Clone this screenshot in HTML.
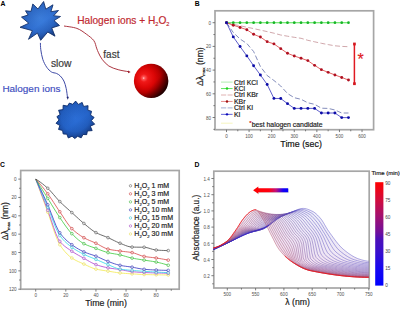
<!DOCTYPE html>
<html><head><meta charset="utf-8"><title>figure</title>
<style>
html,body{margin:0;padding:0;background:#fff;width:400px;height:309px;overflow:hidden;}
svg{display:block;}
text{font-family:"Liberation Sans",sans-serif;}
</style></head>
<body>
<svg width="400" height="309" viewBox="0 0 400 309">
<text x="0.4" y="6.4" font-size="6.8" fill="#000" text-anchor="start" font-weight="bold" >A</text>
<text x="194.8" y="6.2" font-size="6.8" fill="#000" text-anchor="start" font-weight="bold" >B</text>
<text x="0.1" y="166.5" font-size="6.8" fill="#000" text-anchor="start" font-weight="bold" >C</text>
<text x="194.4" y="167" font-size="6.8" fill="#000" text-anchor="start" font-weight="bold" >D</text>
<defs>
<radialGradient id="starA" cx="0.48" cy="0.42" r="0.62">
 <stop offset="0" stop-color="#3d80df"/>
 <stop offset="0.6" stop-color="#2f6ed0"/>
 <stop offset="0.85" stop-color="#2458b0"/>
 <stop offset="1" stop-color="#183f86"/>
</radialGradient>
<radialGradient id="starB" cx="0.5" cy="0.45" r="0.6">
 <stop offset="0" stop-color="#2c6fd8"/>
 <stop offset="0.6" stop-color="#2463c8"/>
 <stop offset="1" stop-color="#163f8e"/>
</radialGradient>
<radialGradient id="sph" cx="0.36" cy="0.40" r="0.72" fx="0.28" fy="0.42">
 <stop offset="0" stop-color="#ffd0d0"/>
 <stop offset="0.05" stop-color="#ff5a5a"/>
 <stop offset="0.16" stop-color="#f01818"/>
 <stop offset="0.4" stop-color="#dc0606"/>
 <stop offset="0.6" stop-color="#b80000"/>
 <stop offset="0.8" stop-color="#700000"/>
 <stop offset="0.95" stop-color="#300000"/>
 <stop offset="1" stop-color="#200000"/>
</radialGradient>
<linearGradient id="sphs" x1="0.2" y1="0.25" x2="0.95" y2="0.9">
 <stop offset="0" stop-color="#000" stop-opacity="0"/>
 <stop offset="0.5" stop-color="#000" stop-opacity="0"/>
 <stop offset="0.75" stop-color="#000" stop-opacity="0.3"/>
 <stop offset="1" stop-color="#000" stop-opacity="0.75"/>
</linearGradient>
<linearGradient id="starS" x1="0.25" y1="0.2" x2="0.85" y2="1">
 <stop offset="0" stop-color="#0a1f50" stop-opacity="0.15"/>
 <stop offset="0.45" stop-color="#0a1f50" stop-opacity="0"/>
 <stop offset="0.7" stop-color="#0a1f50" stop-opacity="0.15"/>
 <stop offset="1" stop-color="#0a1f50" stop-opacity="0.6"/>
</linearGradient>
<linearGradient id="fanG" x1="0.35" y1="0.9" x2="0.75" y2="0.2">
 <stop offset="0" stop-color="#e890b8" stop-opacity="0.35"/>
 <stop offset="0.5" stop-color="#c8a8dc" stop-opacity="0.28"/>
 <stop offset="1" stop-color="#a8a8e0" stop-opacity="0.2"/>
</linearGradient>
<linearGradient id="arrowD" x1="0" y1="0" x2="1" y2="0">
 <stop offset="0" stop-color="#ff0000"/>
 <stop offset="0.45" stop-color="#ff0010"/>
 <stop offset="0.65" stop-color="#c0107a"/>
 <stop offset="0.85" stop-color="#1a00f0"/>
 <stop offset="1" stop-color="#0000ff"/>
</linearGradient>
<linearGradient id="cbar" x1="0" y1="1" x2="0" y2="0">
 <stop offset="0" stop-color="#0000ff"/>
 <stop offset="0.17" stop-color="#1808f0"/>
 <stop offset="0.33" stop-color="#3a10cc"/>
 <stop offset="0.45" stop-color="#4c10b8"/>
 <stop offset="0.52" stop-color="#72109a"/>
 <stop offset="0.67" stop-color="#a21070"/>
 <stop offset="0.83" stop-color="#d20c3c"/>
 <stop offset="1" stop-color="#ff0000"/>
</linearGradient>
</defs>
<polygon points="43.6,1.5 45.79,9.15 53,4.8 50.89,11.73 58.5,10.5 53.65,15.72 60.5,16.5 54,20.62 59.5,25.5 51.74,27.91 55,36.2 47.78,32.02 40.7,40.3 37.46,33.06 28.5,39.3 32.39,30.65 20,27.3 28.78,23.24 21.5,17.1 28.1,15.03 25.5,10.8 31.03,11.32 32.8,4 37.96,8.96" fill="url(#starA)" stroke="#16346e" stroke-width="0.9" stroke-linejoin="miter"/>
<polygon points="43.6,1.5 45.79,9.15 53,4.8 50.89,11.73 58.5,10.5 53.65,15.72 60.5,16.5 54,20.62 59.5,25.5 51.74,27.91 55,36.2 47.78,32.02 40.7,40.3 37.46,33.06 28.5,39.3 32.39,30.65 20,27.3 28.78,23.24 21.5,17.1 28.1,15.03 25.5,10.8 31.03,11.32 32.8,4 37.96,8.96" fill="url(#starS)"/>
<polygon points="82.16,102.41 83.6,106.45 88.05,105.64 87.83,110.16 91.59,111.3 90.54,115.09 94.1,117.39 91.4,120.65 94.67,124.17 90.3,126.17 92.18,130.6 87.38,130.98 86.71,134.64 82.99,134.5 81.16,137.86 77.67,136.31 74.8,138.54 72.04,136.19 68.32,138 66.8,134.15 63.2,133.99 62.57,130.44 58.53,129.45 59.86,125.51 56.04,123.25 59,119.95 56.88,116.66 60.1,114.43 58.58,110.22 63.02,109.62 63.13,105.27 67.41,106.1 69.35,103.08 72.73,104.29 75.62,101.09 78.36,104.41" fill="url(#starB)" stroke="#10306e" stroke-width="0.9" stroke-linejoin="miter"/>
<polygon points="82.16,102.41 83.6,106.45 88.05,105.64 87.83,110.16 91.59,111.3 90.54,115.09 94.1,117.39 91.4,120.65 94.67,124.17 90.3,126.17 92.18,130.6 87.38,130.98 86.71,134.64 82.99,134.5 81.16,137.86 77.67,136.31 74.8,138.54 72.04,136.19 68.32,138 66.8,134.15 63.2,133.99 62.57,130.44 58.53,129.45 59.86,125.51 56.04,123.25 59,119.95 56.88,116.66 60.1,114.43 58.58,110.22 63.02,109.62 63.13,105.27 67.41,106.1 69.35,103.08 72.73,104.29 75.62,101.09 78.36,104.41" fill="url(#starS)" opacity="0.7"/>
<circle cx="151.1" cy="80.9" r="17.2" fill="url(#sph)"/>
<circle cx="151.1" cy="80.9" r="17.2" fill="url(#sphs)"/>
<path d="M64 26 C66.15 26.4 73.18 27.05 76.9 28.4 C80.62 29.75 83.48 32.07 86.3 34.1 C89.12 36.13 92.08 38.27 93.8 40.6 C95.52 42.93 95.82 46.07 96.6 48.1 C97.38 50.13 97.57 50.92 98.5 52.8 C99.43 54.68 100.48 57.2 102.2 59.4 C103.92 61.6 106.13 64.28 108.8 66 C111.47 67.72 114.9 68.75 118.2 69.7 C121.5 70.65 126.87 71.37 128.6 71.7" fill="none" stroke="#a82c38" stroke-width="0.95"/>
<polygon points="130.6,71.9 128.0,70.5 128.1,73.2" fill="#9a1c2c"/>
<path d="M40.4 42.9 C40.47 44.03 40.4 46.95 40.8 49.7 C41.2 52.45 41.82 56.48 42.8 59.4 C43.78 62.32 45.25 65.1 46.7 67.2 C48.15 69.3 49.88 70.97 51.5 72 C53.12 73.03 54.95 72.75 56.4 73.4 C57.85 74.05 58.95 74.63 60.2 75.9 C61.45 77.17 62.9 78.9 63.9 81 C64.9 83.1 65.6 85.75 66.2 88.5 C66.8 91.25 67.28 96 67.5 97.5" fill="none" stroke="#3440a0" stroke-width="0.95"/>
<polygon points="67.8,99.7 66.5,97.0 68.9,96.8" fill="#1c2470"/>
<text x="77.3" y="23.9" font-size="10.15" fill="#c0282f" text-anchor="start" font-weight="normal" stroke="#c0282f" stroke-width="0.18" >Halogen ions + H<tspan font-size="5.6" dy="2.2">2</tspan><tspan dy="-2.2">O</tspan><tspan font-size="5.6" dy="2.2">2</tspan></text>
<text x="103.3" y="57.8" font-size="10" fill="#3a3a3a" text-anchor="start" font-weight="normal" stroke="#3a3a3a" stroke-width="0.18" >fast</text>
<text x="50.9" y="67.1" font-size="10.3" fill="#3a3a3a" text-anchor="start" font-weight="normal" stroke="#3a3a3a" stroke-width="0.18" >slow</text>
<text x="2.4" y="91.6" font-size="9.95" fill="#3f4fbf" text-anchor="start" font-weight="normal" stroke="#3f4fbf" stroke-width="0.18" >Halogen ions</text>
<rect x="215" y="10.8" width="158.6" height="118.9" fill="none" stroke="#a6a6a6" stroke-width="1.7"/>
<line x1="226.5" y1="129.7" x2="226.5" y2="132.1" stroke="#666" stroke-width="0.85"/>
<text x="226.5" y="137.9" font-size="4.6" fill="#505050" text-anchor="middle" font-weight="normal" >0</text>
<line x1="237.79" y1="129.7" x2="237.79" y2="131.3" stroke="#666" stroke-width="0.85"/>
<line x1="249.09" y1="129.7" x2="249.09" y2="132.1" stroke="#666" stroke-width="0.85"/>
<text x="249.09" y="137.9" font-size="4.6" fill="#505050" text-anchor="middle" font-weight="normal" >100</text>
<line x1="260.38" y1="129.7" x2="260.38" y2="131.3" stroke="#666" stroke-width="0.85"/>
<line x1="271.68" y1="129.7" x2="271.68" y2="132.1" stroke="#666" stroke-width="0.85"/>
<text x="271.68" y="137.9" font-size="4.6" fill="#505050" text-anchor="middle" font-weight="normal" >200</text>
<line x1="282.98" y1="129.7" x2="282.98" y2="131.3" stroke="#666" stroke-width="0.85"/>
<line x1="294.27" y1="129.7" x2="294.27" y2="132.1" stroke="#666" stroke-width="0.85"/>
<text x="294.27" y="137.9" font-size="4.6" fill="#505050" text-anchor="middle" font-weight="normal" >300</text>
<line x1="305.56" y1="129.7" x2="305.56" y2="131.3" stroke="#666" stroke-width="0.85"/>
<line x1="316.86" y1="129.7" x2="316.86" y2="132.1" stroke="#666" stroke-width="0.85"/>
<text x="316.86" y="137.9" font-size="4.6" fill="#505050" text-anchor="middle" font-weight="normal" >400</text>
<line x1="328.15" y1="129.7" x2="328.15" y2="131.3" stroke="#666" stroke-width="0.85"/>
<line x1="339.45" y1="129.7" x2="339.45" y2="132.1" stroke="#666" stroke-width="0.85"/>
<text x="339.45" y="137.9" font-size="4.6" fill="#505050" text-anchor="middle" font-weight="normal" >500</text>
<line x1="350.75" y1="129.7" x2="350.75" y2="131.3" stroke="#666" stroke-width="0.85"/>
<line x1="362.04" y1="129.7" x2="362.04" y2="132.1" stroke="#666" stroke-width="0.85"/>
<text x="362.04" y="137.9" font-size="4.6" fill="#505050" text-anchor="middle" font-weight="normal" >600</text>
<line x1="212.6" y1="22.7" x2="215" y2="22.7" stroke="#666" stroke-width="0.85"/>
<text x="211" y="24.7" font-size="4.6" fill="#505050" text-anchor="end" font-weight="normal" >0</text>
<line x1="213.4" y1="34.55" x2="215" y2="34.55" stroke="#666" stroke-width="0.85"/>
<line x1="212.6" y1="46.4" x2="215" y2="46.4" stroke="#666" stroke-width="0.85"/>
<text x="211" y="48.4" font-size="4.6" fill="#505050" text-anchor="end" font-weight="normal" >20</text>
<line x1="213.4" y1="58.25" x2="215" y2="58.25" stroke="#666" stroke-width="0.85"/>
<line x1="212.6" y1="70.1" x2="215" y2="70.1" stroke="#666" stroke-width="0.85"/>
<text x="211" y="72.1" font-size="4.6" fill="#505050" text-anchor="end" font-weight="normal" >40</text>
<line x1="213.4" y1="81.95" x2="215" y2="81.95" stroke="#666" stroke-width="0.85"/>
<line x1="212.6" y1="93.8" x2="215" y2="93.8" stroke="#666" stroke-width="0.85"/>
<text x="211" y="95.8" font-size="4.6" fill="#505050" text-anchor="end" font-weight="normal" >60</text>
<line x1="213.4" y1="105.65" x2="215" y2="105.65" stroke="#666" stroke-width="0.85"/>
<line x1="212.6" y1="117.5" x2="215" y2="117.5" stroke="#666" stroke-width="0.85"/>
<text x="211" y="119.5" font-size="4.6" fill="#505050" text-anchor="end" font-weight="normal" >80</text>
<line x1="213.4" y1="129.35" x2="215" y2="129.35" stroke="#666" stroke-width="0.85"/>
<text x="301.1" y="147" font-size="8.9" fill="#111" text-anchor="middle" font-weight="normal" stroke="#111" stroke-width="0.18" >Time (sec)</text>
<text transform="translate(203.3,66.6) rotate(-90)" font-size="8.7" fill="#1a1a1a" stroke="#1a1a1a" stroke-width="0.18" text-anchor="middle">&#916;&#955;<tspan font-size="4.4" dy="1.5">max</tspan><tspan dy="-1.5"> (nm)</tspan></text>
<path d="M226.5 22.7 L233.28 24.3 L240.05 25.8 L246.83 27.2 L253.61 28.6 L260.38 30.1 L267.16 31.6 L273.94 33.2 L280.72 35 L287.49 36.2 L294.27 37.3 L301.05 38.3 L307.82 40.3 L314.6 41.8 L321.38 43.3 L328.15 44.6 L334.93 45.8 L341.71 46.4 L348.49 46.7" fill="none" stroke="#c49096" stroke-width="0.8" stroke-dasharray="5 2.4"/>
<path d="M226.5 22.7 L233.28 32.5 L240.05 39 L246.83 43.5 L253.61 51.5 L260.38 66.5 L267.16 75.5 L273.94 80.5 L280.72 86 L287.49 93.5 L294.27 97.7 L301.05 99.3 L307.82 102.8 L314.6 104.3 L321.38 108.2 L328.15 108.4 L334.93 110 L341.71 113 L348.49 113" fill="none" stroke="#6470aa" stroke-width="0.8" stroke-dasharray="5 2.4"/>
<path d="M226.5 22.7 L233.28 22.7 L240.05 22.7 L246.83 22.7 L253.61 22.7 L260.38 22.7 L267.16 22.7 L273.94 22.7 L280.72 22.7 L287.49 22.7 L294.27 22.7 L301.05 22.7 L307.82 22.7 L314.6 22.7 L321.38 22.7 L328.15 22.7 L334.93 22.7 L341.71 22.7 L348.49 22.7" fill="none" stroke="#4ee44e" stroke-width="1.1"/>
<circle cx="226.5" cy="22.7" r="1.35" fill="#16b426"/>
<circle cx="233.28" cy="22.7" r="1.35" fill="#16b426"/>
<circle cx="240.05" cy="22.7" r="1.35" fill="#16b426"/>
<circle cx="246.83" cy="22.7" r="1.35" fill="#16b426"/>
<circle cx="253.61" cy="22.7" r="1.35" fill="#16b426"/>
<circle cx="260.38" cy="22.7" r="1.35" fill="#16b426"/>
<circle cx="267.16" cy="22.7" r="1.35" fill="#16b426"/>
<circle cx="273.94" cy="22.7" r="1.35" fill="#16b426"/>
<circle cx="280.72" cy="22.7" r="1.35" fill="#16b426"/>
<circle cx="287.49" cy="22.7" r="1.35" fill="#16b426"/>
<circle cx="294.27" cy="22.7" r="1.35" fill="#16b426"/>
<circle cx="301.05" cy="22.7" r="1.35" fill="#16b426"/>
<circle cx="307.82" cy="22.7" r="1.35" fill="#16b426"/>
<circle cx="314.6" cy="22.7" r="1.35" fill="#16b426"/>
<circle cx="321.38" cy="22.7" r="1.35" fill="#16b426"/>
<circle cx="328.15" cy="22.7" r="1.35" fill="#16b426"/>
<circle cx="334.93" cy="22.7" r="1.35" fill="#16b426"/>
<circle cx="341.71" cy="22.7" r="1.35" fill="#16b426"/>
<circle cx="348.49" cy="22.7" r="1.35" fill="#16b426"/>
<path d="M226.5 22.7 L233.28 25.19 L240.05 27.44 L246.83 29.69 L253.61 34.31 L260.38 37.04 L267.16 41.66 L273.94 43.91 L280.72 48.65 L287.49 53.27 L294.27 56 L301.05 58.25 L307.82 60.62 L314.6 65.36 L321.38 69.63 L328.15 72.35 L334.93 74.96 L341.71 77.45 L348.49 80.05" fill="none" stroke="#d83030" stroke-width="0.75"/>
<circle cx="226.5" cy="22.7" r="1.45" fill="#b01020"/>
<circle cx="233.28" cy="25.19" r="1.45" fill="#b01020"/>
<circle cx="240.05" cy="27.44" r="1.45" fill="#b01020"/>
<circle cx="246.83" cy="29.69" r="1.45" fill="#b01020"/>
<circle cx="253.61" cy="34.31" r="1.45" fill="#b01020"/>
<circle cx="260.38" cy="37.04" r="1.45" fill="#b01020"/>
<circle cx="267.16" cy="41.66" r="1.45" fill="#b01020"/>
<circle cx="273.94" cy="43.91" r="1.45" fill="#b01020"/>
<circle cx="280.72" cy="48.65" r="1.45" fill="#b01020"/>
<circle cx="287.49" cy="53.27" r="1.45" fill="#b01020"/>
<circle cx="294.27" cy="56" r="1.45" fill="#b01020"/>
<circle cx="301.05" cy="58.25" r="1.45" fill="#b01020"/>
<circle cx="307.82" cy="60.62" r="1.45" fill="#b01020"/>
<circle cx="314.6" cy="65.36" r="1.45" fill="#b01020"/>
<circle cx="321.38" cy="69.63" r="1.45" fill="#b01020"/>
<circle cx="328.15" cy="72.35" r="1.45" fill="#b01020"/>
<circle cx="334.93" cy="74.96" r="1.45" fill="#b01020"/>
<circle cx="341.71" cy="77.45" r="1.45" fill="#b01020"/>
<circle cx="348.49" cy="80.05" r="1.45" fill="#b01020"/>
<path d="M226.5 22.7 L233.28 36.92 L240.05 46.52 L246.83 55.88 L253.61 65.72 L260.38 74.96 L267.16 84.44 L273.94 98.42 L280.72 98.54 L287.49 103.64 L294.27 108.38 L301.05 108.38 L307.82 108.38 L314.6 108.38 L321.38 113 L328.15 113 L334.93 113 L341.71 117.62 L348.49 117.62" fill="none" stroke="#2828b8" stroke-width="0.75"/>
<circle cx="226.5" cy="22.7" r="1.45" fill="#0c0ca8"/>
<circle cx="233.28" cy="36.92" r="1.45" fill="#0c0ca8"/>
<circle cx="240.05" cy="46.52" r="1.45" fill="#0c0ca8"/>
<circle cx="246.83" cy="55.88" r="1.45" fill="#0c0ca8"/>
<circle cx="253.61" cy="65.72" r="1.45" fill="#0c0ca8"/>
<circle cx="260.38" cy="74.96" r="1.45" fill="#0c0ca8"/>
<circle cx="267.16" cy="84.44" r="1.45" fill="#0c0ca8"/>
<circle cx="273.94" cy="98.42" r="1.45" fill="#0c0ca8"/>
<circle cx="280.72" cy="98.54" r="1.45" fill="#0c0ca8"/>
<circle cx="287.49" cy="103.64" r="1.45" fill="#0c0ca8"/>
<circle cx="294.27" cy="108.38" r="1.45" fill="#0c0ca8"/>
<circle cx="301.05" cy="108.38" r="1.45" fill="#0c0ca8"/>
<circle cx="307.82" cy="108.38" r="1.45" fill="#0c0ca8"/>
<circle cx="314.6" cy="108.38" r="1.45" fill="#0c0ca8"/>
<circle cx="321.38" cy="113" r="1.45" fill="#0c0ca8"/>
<circle cx="328.15" cy="113" r="1.45" fill="#0c0ca8"/>
<circle cx="334.93" cy="113" r="1.45" fill="#0c0ca8"/>
<circle cx="341.71" cy="117.62" r="1.45" fill="#0c0ca8"/>
<circle cx="348.49" cy="117.62" r="1.45" fill="#0c0ca8"/>
<line x1="354.4" y1="44.5" x2="354.4" y2="84.2" stroke="#e01a22" stroke-width="1.5"/>
<rect x="353.1" y="42.6" width="2.7" height="2.8" fill="#d41820"/>
<rect x="353.1" y="82.3" width="2.7" height="2.8" fill="#d41820"/>
<text x="357.6" y="65.4" font-size="16" fill="#e01a22" text-anchor="start" font-weight="normal" stroke="#e01a22" stroke-width="0.18" >*</text>
<line x1="221" y1="82.1" x2="232.6" y2="82.1" stroke="#9ae89a" stroke-width="0.8" stroke-dasharray="0"/>
<text x="234" y="84.5" font-size="6.9" fill="#1a1a1a" text-anchor="start" font-weight="normal" stroke="#1a1a1a" stroke-width="0.18" >Ctrl KCl</text>
<line x1="221" y1="88.55" x2="232.6" y2="88.55" stroke="#35e035" stroke-width="0.8" stroke-dasharray="0"/>
<circle cx="227" cy="88.55" r="1.2" fill="#1fcf1f"/>
<text x="234" y="90.95" font-size="6.9" fill="#1a1a1a" text-anchor="start" font-weight="normal" stroke="#1a1a1a" stroke-width="0.18" >KCl</text>
<line x1="221" y1="95" x2="232.6" y2="95" stroke="#d8a0a0" stroke-width="0.8" stroke-dasharray="5.2 1.4"/>
<text x="234" y="97.4" font-size="6.9" fill="#1a1a1a" text-anchor="start" font-weight="normal" stroke="#1a1a1a" stroke-width="0.18" >Ctrl KBr</text>
<line x1="221" y1="101.45" x2="232.6" y2="101.45" stroke="#e07070" stroke-width="0.8" stroke-dasharray="0"/>
<circle cx="227" cy="101.45" r="1.2" fill="#a01010"/>
<text x="234" y="103.85" font-size="6.9" fill="#1a1a1a" text-anchor="start" font-weight="normal" stroke="#1a1a1a" stroke-width="0.18" >KBr</text>
<line x1="221" y1="107.9" x2="232.6" y2="107.9" stroke="#8a9ac8" stroke-width="0.8" stroke-dasharray="5.2 1.4"/>
<text x="234" y="110.3" font-size="6.9" fill="#1a1a1a" text-anchor="start" font-weight="normal" stroke="#1a1a1a" stroke-width="0.18" >Ctrl KI</text>
<line x1="221" y1="114.35" x2="232.6" y2="114.35" stroke="#3a3ad0" stroke-width="0.8" stroke-dasharray="0"/>
<circle cx="227" cy="114.35" r="1.2" fill="#0a0ab8"/>
<text x="234" y="116.75" font-size="6.9" fill="#1a1a1a" text-anchor="start" font-weight="normal" stroke="#1a1a1a" stroke-width="0.18" >KI</text>
<line x1="221" y1="123.2" x2="232.6" y2="123.2" stroke="#f4f2b0" stroke-width="0.8"/>
<text x="249.3" y="127" font-size="6.87" fill="#222" text-anchor="start" font-weight="normal" stroke="#222" stroke-width="0.18" ><tspan fill="#d01818" stroke="#d01818" font-size="6" dy="-1.6">*</tspan><tspan dy="1.6">best halogen candidate</tspan></text>
<rect x="20.7" y="170.5" width="158.5" height="118.7" fill="none" stroke="#a6a6a6" stroke-width="1.7"/>
<line x1="35.7" y1="289.2" x2="35.7" y2="291.6" stroke="#666" stroke-width="0.85"/>
<text x="35.7" y="296.6" font-size="4.6" fill="#505050" text-anchor="middle" font-weight="normal" >0</text>
<line x1="50.76" y1="289.2" x2="50.76" y2="290.8" stroke="#666" stroke-width="0.85"/>
<line x1="65.82" y1="289.2" x2="65.82" y2="291.6" stroke="#666" stroke-width="0.85"/>
<text x="65.82" y="296.6" font-size="4.6" fill="#505050" text-anchor="middle" font-weight="normal" >20</text>
<line x1="80.88" y1="289.2" x2="80.88" y2="290.8" stroke="#666" stroke-width="0.85"/>
<line x1="95.94" y1="289.2" x2="95.94" y2="291.6" stroke="#666" stroke-width="0.85"/>
<text x="95.94" y="296.6" font-size="4.6" fill="#505050" text-anchor="middle" font-weight="normal" >40</text>
<line x1="111" y1="289.2" x2="111" y2="290.8" stroke="#666" stroke-width="0.85"/>
<line x1="126.06" y1="289.2" x2="126.06" y2="291.6" stroke="#666" stroke-width="0.85"/>
<text x="126.06" y="296.6" font-size="4.6" fill="#505050" text-anchor="middle" font-weight="normal" >60</text>
<line x1="141.12" y1="289.2" x2="141.12" y2="290.8" stroke="#666" stroke-width="0.85"/>
<line x1="156.18" y1="289.2" x2="156.18" y2="291.6" stroke="#666" stroke-width="0.85"/>
<text x="156.18" y="296.6" font-size="4.6" fill="#505050" text-anchor="middle" font-weight="normal" >80</text>
<line x1="171.24" y1="289.2" x2="171.24" y2="290.8" stroke="#666" stroke-width="0.85"/>
<line x1="18.3" y1="179.1" x2="20.7" y2="179.1" stroke="#666" stroke-width="0.85"/>
<text x="16.6" y="181.1" font-size="4.6" fill="#505050" text-anchor="end" font-weight="normal" >0</text>
<line x1="19.1" y1="188.28" x2="20.7" y2="188.28" stroke="#666" stroke-width="0.85"/>
<line x1="18.3" y1="197.45" x2="20.7" y2="197.45" stroke="#666" stroke-width="0.85"/>
<text x="16.6" y="199.45" font-size="4.6" fill="#505050" text-anchor="end" font-weight="normal" >20</text>
<line x1="19.1" y1="206.62" x2="20.7" y2="206.62" stroke="#666" stroke-width="0.85"/>
<line x1="18.3" y1="215.8" x2="20.7" y2="215.8" stroke="#666" stroke-width="0.85"/>
<text x="16.6" y="217.8" font-size="4.6" fill="#505050" text-anchor="end" font-weight="normal" >40</text>
<line x1="19.1" y1="224.97" x2="20.7" y2="224.97" stroke="#666" stroke-width="0.85"/>
<line x1="18.3" y1="234.15" x2="20.7" y2="234.15" stroke="#666" stroke-width="0.85"/>
<text x="16.6" y="236.15" font-size="4.6" fill="#505050" text-anchor="end" font-weight="normal" >60</text>
<line x1="19.1" y1="243.32" x2="20.7" y2="243.32" stroke="#666" stroke-width="0.85"/>
<line x1="18.3" y1="252.5" x2="20.7" y2="252.5" stroke="#666" stroke-width="0.85"/>
<text x="16.6" y="254.5" font-size="4.6" fill="#505050" text-anchor="end" font-weight="normal" >80</text>
<line x1="19.1" y1="261.68" x2="20.7" y2="261.68" stroke="#666" stroke-width="0.85"/>
<line x1="18.3" y1="270.85" x2="20.7" y2="270.85" stroke="#666" stroke-width="0.85"/>
<text x="16.6" y="272.85" font-size="4.6" fill="#505050" text-anchor="end" font-weight="normal" >100</text>
<line x1="19.1" y1="280.02" x2="20.7" y2="280.02" stroke="#666" stroke-width="0.85"/>
<line x1="18.3" y1="289.2" x2="20.7" y2="289.2" stroke="#666" stroke-width="0.85"/>
<text x="16.6" y="291.2" font-size="4.6" fill="#505050" text-anchor="end" font-weight="normal" >120</text>
<text x="106" y="306.2" font-size="8.8" fill="#1a1a1a" text-anchor="middle" font-weight="normal" stroke="#1a1a1a" stroke-width="0.18" >Time (min)</text>
<text transform="translate(8.4,221.1) rotate(-90)" font-size="8.5" fill="#1a1a1a" stroke="#1a1a1a" stroke-width="0.18" text-anchor="middle">&#916;&#955;<tspan font-size="4.4" dy="1.5">max</tspan><tspan dy="-1.5"> (nm)</tspan></text>
<path d="M35.7 179.1 L37.95 185.29 L40.19 191.47 L42.44 197.63 L44.68 203.78 L46.93 209.91 L49.18 216.19 L51.42 222.99 L53.67 229.85 L55.92 236.25 L58.16 241.67 L60.41 245.65 L62.65 248.84 L64.9 251.64 L67.15 254.06 L69.39 256.13 L71.64 257.86 L73.89 259.31 L76.13 260.54 L78.38 261.62 L80.62 262.62 L82.87 263.6 L85.12 264.63 L87.36 265.71 L89.61 266.77 L91.86 267.75 L94.1 268.58 L96.35 269.2 L98.59 269.67 L100.84 270.06 L103.09 270.4 L105.33 270.73 L107.58 271.06 L109.83 271.43 L112.07 271.81 L114.32 272.18 L116.56 272.53 L118.81 272.82 L121.06 273.06 L123.3 273.26 L125.55 273.44 L127.8 273.6 L130.04 273.75 L132.29 273.89 L134.53 274.03 L136.78 274.17 L139.03 274.3 L141.27 274.41 L143.52 274.5 L145.77 274.57 L148.01 274.63 L150.26 274.68 L152.5 274.73 L154.75 274.77 L157 274.81 L159.24 274.85 L161.49 274.89 L163.74 274.92 L165.98 274.95 L168.23 274.98" fill="none" stroke="#f2ea50" stroke-width="0.8"/>
<path d="M35.7 179.1 L37.95 184.93 L40.19 190.75 L42.44 196.57 L44.68 202.38 L46.93 208.19 L49.18 214.18 L51.42 220.8 L53.67 227.51 L55.92 233.69 L58.16 238.72 L60.41 242.05 L62.65 244.43 L64.9 246.4 L67.15 248.07 L69.39 249.58 L71.64 251.08 L73.89 252.56 L76.13 253.94 L78.38 255.23 L80.62 256.48 L82.87 257.72 L85.12 258.97 L87.36 260.28 L89.61 261.58 L91.86 262.8 L94.1 263.88 L96.35 264.75 L98.59 265.5 L100.84 266.16 L103.09 266.76 L105.33 267.28 L107.58 267.74 L109.83 268.14 L112.07 268.48 L114.32 268.78 L116.56 269.07 L118.81 269.38 L121.06 269.74 L123.3 270.16 L125.55 270.61 L127.8 271.04 L130.04 271.42 L132.29 271.7 L134.53 271.9 L136.78 272.07 L139.03 272.22 L141.27 272.35 L143.52 272.47 L145.77 272.58 L148.01 272.68 L150.26 272.77 L152.5 272.85 L154.75 272.92 L157 272.98 L159.24 273.04 L161.49 273.1 L163.74 273.15 L165.98 273.2 L168.23 273.24" fill="none" stroke="#b040d0" stroke-width="0.8"/>
<path d="M35.7 179.1 L37.95 184.28 L40.19 189.48 L42.44 194.7 L44.68 199.93 L46.93 205.17 L49.18 210.58 L51.42 216.49 L53.67 222.49 L55.92 228.1 L58.16 232.86 L60.41 236.35 L62.65 239.11 L64.9 241.49 L67.15 243.57 L69.39 245.42 L71.64 247.12 L73.89 248.7 L76.13 250.14 L78.38 251.46 L80.62 252.68 L82.87 253.83 L85.12 254.92 L87.36 255.91 L89.61 256.83 L91.86 257.72 L94.1 258.62 L96.35 259.56 L98.59 260.54 L100.84 261.53 L103.09 262.53 L105.33 263.51 L107.58 264.45 L109.83 265.38 L112.07 266.37 L114.32 267.34 L116.56 268.2 L118.81 268.86 L121.06 269.27 L123.3 269.57 L125.55 269.81 L127.8 270.02 L130.04 270.22 L132.29 270.41 L134.53 270.6 L136.78 270.78 L139.03 270.95 L141.27 271.11 L143.52 271.27 L145.77 271.42 L148.01 271.56 L150.26 271.7 L152.5 271.83 L154.75 271.96 L157 272.09 L159.24 272.21 L161.49 272.34 L163.74 272.46 L165.98 272.57 L168.23 272.69" fill="none" stroke="#30d8e8" stroke-width="0.8"/>
<path d="M35.7 179.1 L37.95 183.72 L40.19 188.42 L42.44 193.19 L44.68 198.05 L46.93 202.98 L49.18 208.14 L51.42 213.88 L53.67 219.78 L55.92 225.34 L58.16 230.1 L60.41 233.61 L62.65 236.39 L64.9 238.81 L67.15 240.93 L69.39 242.82 L71.64 244.55 L73.89 246.17 L76.13 247.66 L78.38 249.02 L80.62 250.27 L82.87 251.39 L85.12 252.38 L87.36 253.23 L89.61 254 L91.86 254.73 L94.1 255.49 L96.35 256.33 L98.59 257.28 L100.84 258.3 L103.09 259.33 L105.33 260.33 L107.58 261.25 L109.83 262.09 L112.07 262.93 L114.32 263.73 L116.56 264.45 L118.81 265.07 L121.06 265.55 L123.3 265.93 L125.55 266.26 L127.8 266.56 L130.04 266.87 L132.29 267.21 L134.53 267.62 L136.78 268.08 L139.03 268.52 L141.27 268.92 L143.52 269.23 L145.77 269.43 L148.01 269.6 L150.26 269.74 L152.5 269.86 L154.75 269.96 L157 270.06 L159.24 270.14 L161.49 270.22 L163.74 270.29 L165.98 270.35 L168.23 270.39" fill="none" stroke="#3434c0" stroke-width="0.8"/>
<path d="M35.7 179.1 L37.95 182.7 L40.19 186.3 L42.44 189.89 L44.68 193.48 L46.93 197.06 L49.18 200.67 L51.42 204.33 L53.67 208 L55.92 211.61 L58.16 215.11 L60.41 218.44 L62.65 221.73 L64.9 224.97 L67.15 228.08 L69.39 230.94 L71.64 233.48 L73.89 235.75 L76.13 237.89 L78.38 239.87 L80.62 241.63 L82.87 243.12 L85.12 244.31 L87.36 245.3 L89.61 246.16 L91.86 246.95 L94.1 247.72 L96.35 248.52 L98.59 249.38 L100.84 250.24 L103.09 251.07 L105.33 251.84 L107.58 252.49 L109.83 253.01 L112.07 253.44 L114.32 253.83 L116.56 254.21 L118.81 254.63 L121.06 255.12 L123.3 255.72 L125.55 256.37 L127.8 257.02 L130.04 257.63 L132.29 258.14 L134.53 258.57 L136.78 258.95 L139.03 259.31 L141.27 259.66 L143.52 260.02 L145.77 260.37 L148.01 260.71 L150.26 261.04 L152.5 261.39 L154.75 261.77 L157 262.21 L159.24 262.71 L161.49 263.28 L163.74 263.89 L165.98 264.55 L168.23 265.25" fill="none" stroke="#3ccc3c" stroke-width="0.8"/>
<path d="M35.7 179.1 L37.95 181.59 L40.19 184.2 L42.44 186.93 L44.68 189.76 L46.93 192.69 L49.18 195.75 L51.42 199.04 L53.67 202.46 L55.92 205.93 L58.16 209.35 L60.41 212.66 L62.65 216.06 L64.9 219.52 L67.15 222.85 L69.39 225.88 L71.64 228.44 L73.89 230.56 L76.13 232.46 L78.38 234.18 L80.62 235.73 L82.87 237.13 L85.12 238.4 L87.36 239.5 L89.61 240.5 L91.86 241.44 L94.1 242.4 L96.35 243.43 L98.59 244.61 L100.84 245.89 L103.09 247.12 L105.33 248.2 L107.58 249 L109.83 249.51 L112.07 249.92 L114.32 250.26 L116.56 250.56 L118.81 250.86 L121.06 251.17 L123.3 251.44 L125.55 251.69 L127.8 251.95 L130.04 252.25 L132.29 252.63 L134.53 253.22 L136.78 254.01 L139.03 254.87 L141.27 255.69 L143.52 256.32 L145.77 256.72 L148.01 257.03 L150.26 257.29 L152.5 257.54 L154.75 257.81 L157 258.13 L159.24 258.48 L161.49 258.86 L163.74 259.26 L165.98 259.68 L168.23 260.12" fill="none" stroke="#d84848" stroke-width="0.8"/>
<path d="M35.7 179.1 L37.95 180.51 L40.19 182.07 L42.44 183.78 L44.68 185.6 L46.93 187.54 L49.18 189.64 L51.42 192.05 L53.67 194.66 L55.92 197.31 L58.16 199.86 L60.41 202.19 L62.65 204.34 L64.9 206.4 L67.15 208.41 L69.39 210.4 L71.64 212.4 L73.89 214.46 L76.13 216.53 L78.38 218.59 L80.62 220.61 L82.87 222.56 L85.12 224.44 L87.36 226.33 L89.61 228.18 L91.86 229.93 L94.1 231.5 L96.35 232.81 L98.59 233.89 L100.84 234.83 L103.09 235.69 L105.33 236.55 L107.58 237.46 L109.83 238.48 L112.07 239.57 L114.32 240.68 L116.56 241.75 L118.81 242.75 L121.06 243.63 L123.3 244.57 L125.55 245.49 L127.8 246.29 L130.04 246.86 L132.29 247.09 L134.53 247.14 L136.78 247.17 L139.03 247.19 L141.27 247.21 L143.52 247.25 L145.77 247.43 L148.01 247.93 L150.26 248.61 L152.5 249.3 L154.75 249.84 L157 250.08 L159.24 250.24 L161.49 250.38 L163.74 250.48 L165.98 250.55 L168.23 250.57" fill="none" stroke="#484848" stroke-width="0.8"/>
<circle cx="47.75" cy="212.13" r="1.35" fill="#fff" fill-opacity="0.6" stroke="#e8dc50" stroke-width="0.6"/>
<circle cx="59.8" cy="244.7" r="1.35" fill="#fff" fill-opacity="0.6" stroke="#e8dc50" stroke-width="0.6"/>
<circle cx="71.84" cy="258" r="1.35" fill="#fff" fill-opacity="0.6" stroke="#e8dc50" stroke-width="0.6"/>
<circle cx="83.89" cy="264.06" r="1.35" fill="#fff" fill-opacity="0.6" stroke="#e8dc50" stroke-width="0.6"/>
<circle cx="95.94" cy="269.11" r="1.35" fill="#fff" fill-opacity="0.6" stroke="#e8dc50" stroke-width="0.6"/>
<circle cx="107.99" cy="271.13" r="1.35" fill="#fff" fill-opacity="0.6" stroke="#e8dc50" stroke-width="0.6"/>
<circle cx="120.04" cy="272.96" r="1.35" fill="#fff" fill-opacity="0.6" stroke="#e8dc50" stroke-width="0.6"/>
<circle cx="132.08" cy="273.88" r="1.35" fill="#fff" fill-opacity="0.6" stroke="#e8dc50" stroke-width="0.6"/>
<circle cx="144.13" cy="274.52" r="1.35" fill="#fff" fill-opacity="0.6" stroke="#e8dc50" stroke-width="0.6"/>
<circle cx="156.18" cy="274.8" r="1.35" fill="#fff" fill-opacity="0.6" stroke="#e8dc50" stroke-width="0.6"/>
<circle cx="168.23" cy="274.98" r="1.35" fill="#fff" fill-opacity="0.6" stroke="#e8dc50" stroke-width="0.6"/>
<circle cx="47.75" cy="210.29" r="1.35" fill="#fff" fill-opacity="0.6" stroke="#a040c0" stroke-width="0.6"/>
<circle cx="59.8" cy="241.31" r="1.35" fill="#fff" fill-opacity="0.6" stroke="#a040c0" stroke-width="0.6"/>
<circle cx="71.84" cy="251.22" r="1.35" fill="#fff" fill-opacity="0.6" stroke="#a040c0" stroke-width="0.6"/>
<circle cx="83.89" cy="258.28" r="1.35" fill="#fff" fill-opacity="0.6" stroke="#a040c0" stroke-width="0.6"/>
<circle cx="95.94" cy="264.61" r="1.35" fill="#fff" fill-opacity="0.6" stroke="#a040c0" stroke-width="0.6"/>
<circle cx="107.99" cy="267.82" r="1.35" fill="#fff" fill-opacity="0.6" stroke="#a040c0" stroke-width="0.6"/>
<circle cx="120.04" cy="269.57" r="1.35" fill="#fff" fill-opacity="0.6" stroke="#a040c0" stroke-width="0.6"/>
<circle cx="132.08" cy="271.68" r="1.35" fill="#fff" fill-opacity="0.6" stroke="#a040c0" stroke-width="0.6"/>
<circle cx="144.13" cy="272.5" r="1.35" fill="#fff" fill-opacity="0.6" stroke="#a040c0" stroke-width="0.6"/>
<circle cx="156.18" cy="272.96" r="1.35" fill="#fff" fill-opacity="0.6" stroke="#a040c0" stroke-width="0.6"/>
<circle cx="168.23" cy="273.24" r="1.35" fill="#fff" fill-opacity="0.6" stroke="#a040c0" stroke-width="0.6"/>
<circle cx="47.75" cy="207.08" r="1.35" fill="#fff" fill-opacity="0.6" stroke="#30c0d0" stroke-width="0.6"/>
<circle cx="59.8" cy="235.53" r="1.35" fill="#fff" fill-opacity="0.6" stroke="#30c0d0" stroke-width="0.6"/>
<circle cx="71.84" cy="247.27" r="1.35" fill="#fff" fill-opacity="0.6" stroke="#30c0d0" stroke-width="0.6"/>
<circle cx="83.89" cy="254.33" r="1.35" fill="#fff" fill-opacity="0.6" stroke="#30c0d0" stroke-width="0.6"/>
<circle cx="95.94" cy="259.38" r="1.35" fill="#fff" fill-opacity="0.6" stroke="#30c0d0" stroke-width="0.6"/>
<circle cx="107.99" cy="264.61" r="1.35" fill="#fff" fill-opacity="0.6" stroke="#30c0d0" stroke-width="0.6"/>
<circle cx="120.04" cy="269.11" r="1.35" fill="#fff" fill-opacity="0.6" stroke="#30c0d0" stroke-width="0.6"/>
<circle cx="132.08" cy="270.39" r="1.35" fill="#fff" fill-opacity="0.6" stroke="#30c0d0" stroke-width="0.6"/>
<circle cx="144.13" cy="271.31" r="1.35" fill="#fff" fill-opacity="0.6" stroke="#30c0d0" stroke-width="0.6"/>
<circle cx="156.18" cy="272.04" r="1.35" fill="#fff" fill-opacity="0.6" stroke="#30c0d0" stroke-width="0.6"/>
<circle cx="168.23" cy="272.69" r="1.35" fill="#fff" fill-opacity="0.6" stroke="#30c0d0" stroke-width="0.6"/>
<circle cx="47.75" cy="204.79" r="1.35" fill="#fff" fill-opacity="0.6" stroke="#3030b0" stroke-width="0.6"/>
<circle cx="59.8" cy="232.77" r="1.35" fill="#fff" fill-opacity="0.6" stroke="#3030b0" stroke-width="0.6"/>
<circle cx="71.84" cy="244.7" r="1.35" fill="#fff" fill-opacity="0.6" stroke="#3030b0" stroke-width="0.6"/>
<circle cx="83.89" cy="251.86" r="1.35" fill="#fff" fill-opacity="0.6" stroke="#3030b0" stroke-width="0.6"/>
<circle cx="95.94" cy="256.17" r="1.35" fill="#fff" fill-opacity="0.6" stroke="#3030b0" stroke-width="0.6"/>
<circle cx="107.99" cy="261.4" r="1.35" fill="#fff" fill-opacity="0.6" stroke="#3030b0" stroke-width="0.6"/>
<circle cx="120.04" cy="265.35" r="1.35" fill="#fff" fill-opacity="0.6" stroke="#3030b0" stroke-width="0.6"/>
<circle cx="132.08" cy="267.18" r="1.35" fill="#fff" fill-opacity="0.6" stroke="#3030b0" stroke-width="0.6"/>
<circle cx="144.13" cy="269.29" r="1.35" fill="#fff" fill-opacity="0.6" stroke="#3030b0" stroke-width="0.6"/>
<circle cx="156.18" cy="270.02" r="1.35" fill="#fff" fill-opacity="0.6" stroke="#3030b0" stroke-width="0.6"/>
<circle cx="168.23" cy="270.39" r="1.35" fill="#fff" fill-opacity="0.6" stroke="#3030b0" stroke-width="0.6"/>
<circle cx="47.75" cy="198.37" r="1.35" fill="#fff" fill-opacity="0.6" stroke="#30b030" stroke-width="0.6"/>
<circle cx="59.8" cy="217.54" r="1.35" fill="#fff" fill-opacity="0.6" stroke="#30b030" stroke-width="0.6"/>
<circle cx="71.84" cy="233.69" r="1.35" fill="#fff" fill-opacity="0.6" stroke="#30b030" stroke-width="0.6"/>
<circle cx="83.89" cy="243.69" r="1.35" fill="#fff" fill-opacity="0.6" stroke="#30b030" stroke-width="0.6"/>
<circle cx="95.94" cy="248.37" r="1.35" fill="#fff" fill-opacity="0.6" stroke="#30b030" stroke-width="0.6"/>
<circle cx="107.99" cy="252.59" r="1.35" fill="#fff" fill-opacity="0.6" stroke="#30b030" stroke-width="0.6"/>
<circle cx="120.04" cy="254.89" r="1.35" fill="#fff" fill-opacity="0.6" stroke="#30b030" stroke-width="0.6"/>
<circle cx="132.08" cy="258.1" r="1.35" fill="#fff" fill-opacity="0.6" stroke="#30b030" stroke-width="0.6"/>
<circle cx="144.13" cy="260.12" r="1.35" fill="#fff" fill-opacity="0.6" stroke="#30b030" stroke-width="0.6"/>
<circle cx="156.18" cy="262.04" r="1.35" fill="#fff" fill-opacity="0.6" stroke="#30b030" stroke-width="0.6"/>
<circle cx="168.23" cy="265.25" r="1.35" fill="#fff" fill-opacity="0.6" stroke="#30b030" stroke-width="0.6"/>
<circle cx="47.75" cy="193.78" r="1.35" fill="#fff" fill-opacity="0.6" stroke="#c83030" stroke-width="0.6"/>
<circle cx="59.8" cy="211.76" r="1.35" fill="#fff" fill-opacity="0.6" stroke="#c83030" stroke-width="0.6"/>
<circle cx="71.84" cy="228.64" r="1.35" fill="#fff" fill-opacity="0.6" stroke="#c83030" stroke-width="0.6"/>
<circle cx="83.89" cy="237.73" r="1.35" fill="#fff" fill-opacity="0.6" stroke="#c83030" stroke-width="0.6"/>
<circle cx="95.94" cy="243.23" r="1.35" fill="#fff" fill-opacity="0.6" stroke="#c83030" stroke-width="0.6"/>
<circle cx="107.99" cy="249.11" r="1.35" fill="#fff" fill-opacity="0.6" stroke="#c83030" stroke-width="0.6"/>
<circle cx="120.04" cy="251.03" r="1.35" fill="#fff" fill-opacity="0.6" stroke="#c83030" stroke-width="0.6"/>
<circle cx="132.08" cy="252.59" r="1.35" fill="#fff" fill-opacity="0.6" stroke="#c83030" stroke-width="0.6"/>
<circle cx="144.13" cy="256.45" r="1.35" fill="#fff" fill-opacity="0.6" stroke="#c83030" stroke-width="0.6"/>
<circle cx="156.18" cy="258" r="1.35" fill="#fff" fill-opacity="0.6" stroke="#c83030" stroke-width="0.6"/>
<circle cx="168.23" cy="260.12" r="1.35" fill="#fff" fill-opacity="0.6" stroke="#c83030" stroke-width="0.6"/>
<circle cx="47.75" cy="188.28" r="1.35" fill="#fff" fill-opacity="0.6" stroke="#555" stroke-width="0.6"/>
<circle cx="59.8" cy="201.58" r="1.35" fill="#fff" fill-opacity="0.6" stroke="#555" stroke-width="0.6"/>
<circle cx="71.84" cy="212.59" r="1.35" fill="#fff" fill-opacity="0.6" stroke="#555" stroke-width="0.6"/>
<circle cx="83.89" cy="223.42" r="1.35" fill="#fff" fill-opacity="0.6" stroke="#555" stroke-width="0.6"/>
<circle cx="95.94" cy="232.59" r="1.35" fill="#fff" fill-opacity="0.6" stroke="#555" stroke-width="0.6"/>
<circle cx="107.99" cy="237.64" r="1.35" fill="#fff" fill-opacity="0.6" stroke="#555" stroke-width="0.6"/>
<circle cx="120.04" cy="243.23" r="1.35" fill="#fff" fill-opacity="0.6" stroke="#555" stroke-width="0.6"/>
<circle cx="132.08" cy="247.09" r="1.35" fill="#fff" fill-opacity="0.6" stroke="#555" stroke-width="0.6"/>
<circle cx="144.13" cy="247.27" r="1.35" fill="#fff" fill-opacity="0.6" stroke="#555" stroke-width="0.6"/>
<circle cx="156.18" cy="250.02" r="1.35" fill="#fff" fill-opacity="0.6" stroke="#555" stroke-width="0.6"/>
<circle cx="168.23" cy="250.57" r="1.35" fill="#fff" fill-opacity="0.6" stroke="#555" stroke-width="0.6"/>
<circle cx="130.5" cy="185.8" r="1.2" fill="none" stroke="#555" stroke-width="0.55"/>
<text x="134.3" y="188.2" font-size="7.05" fill="#222" text-anchor="start" font-weight="normal" stroke="#222" stroke-width="0.18" >H<tspan font-size="4.2" dy="1.3">2</tspan><tspan dy="-1.3">O</tspan><tspan font-size="4.2" dy="1.3">2</tspan><tspan dy="-1.3"> 1 mM</tspan></text>
<circle cx="130.5" cy="193.83" r="1.2" fill="none" stroke="#c83030" stroke-width="0.55"/>
<text x="134.3" y="196.23" font-size="7.05" fill="#222" text-anchor="start" font-weight="normal" stroke="#222" stroke-width="0.18" >H<tspan font-size="4.2" dy="1.3">2</tspan><tspan dy="-1.3">O</tspan><tspan font-size="4.2" dy="1.3">2</tspan><tspan dy="-1.3"> 3 mM</tspan></text>
<circle cx="130.5" cy="201.86" r="1.2" fill="none" stroke="#30b030" stroke-width="0.55"/>
<text x="134.3" y="204.26" font-size="7.05" fill="#222" text-anchor="start" font-weight="normal" stroke="#222" stroke-width="0.18" >H<tspan font-size="4.2" dy="1.3">2</tspan><tspan dy="-1.3">O</tspan><tspan font-size="4.2" dy="1.3">2</tspan><tspan dy="-1.3"> 5 mM</tspan></text>
<circle cx="130.5" cy="209.89" r="1.2" fill="none" stroke="#3030b0" stroke-width="0.55"/>
<text x="134.3" y="212.29" font-size="7.05" fill="#222" text-anchor="start" font-weight="normal" stroke="#222" stroke-width="0.18" >H<tspan font-size="4.2" dy="1.3">2</tspan><tspan dy="-1.3">O</tspan><tspan font-size="4.2" dy="1.3">2</tspan><tspan dy="-1.3"> 10 mM</tspan></text>
<circle cx="130.5" cy="217.92" r="1.2" fill="none" stroke="#30c0d0" stroke-width="0.55"/>
<text x="134.3" y="220.32" font-size="7.05" fill="#222" text-anchor="start" font-weight="normal" stroke="#222" stroke-width="0.18" >H<tspan font-size="4.2" dy="1.3">2</tspan><tspan dy="-1.3">O</tspan><tspan font-size="4.2" dy="1.3">2</tspan><tspan dy="-1.3"> 15 mM</tspan></text>
<circle cx="130.5" cy="225.95" r="1.2" fill="none" stroke="#a040c0" stroke-width="0.55"/>
<text x="134.3" y="228.35" font-size="7.05" fill="#222" text-anchor="start" font-weight="normal" stroke="#222" stroke-width="0.18" >H<tspan font-size="4.2" dy="1.3">2</tspan><tspan dy="-1.3">O</tspan><tspan font-size="4.2" dy="1.3">2</tspan><tspan dy="-1.3"> 20 mM</tspan></text>
<circle cx="130.5" cy="233.98" r="1.2" fill="none" stroke="#e8dc50" stroke-width="0.55"/>
<text x="134.3" y="236.38" font-size="7.05" fill="#222" text-anchor="start" font-weight="normal" stroke="#222" stroke-width="0.18" >H<tspan font-size="4.2" dy="1.3">2</tspan><tspan dy="-1.3">O</tspan><tspan font-size="4.2" dy="1.3">2</tspan><tspan dy="-1.3"> 30 mM</tspan></text>
<rect x="213.8" y="171.2" width="155.4" height="116.8" fill="none" stroke="#a6a6a6" stroke-width="1.7"/>
<line x1="227.3" y1="288" x2="227.3" y2="290.4" stroke="#666" stroke-width="0.85"/>
<text x="227.3" y="295.9" font-size="4.6" fill="#505050" text-anchor="middle" font-weight="normal" >500</text>
<line x1="241.45" y1="288" x2="241.45" y2="289.6" stroke="#666" stroke-width="0.85"/>
<line x1="255.6" y1="288" x2="255.6" y2="290.4" stroke="#666" stroke-width="0.85"/>
<text x="255.6" y="295.9" font-size="4.6" fill="#505050" text-anchor="middle" font-weight="normal" >550</text>
<line x1="269.75" y1="288" x2="269.75" y2="289.6" stroke="#666" stroke-width="0.85"/>
<line x1="283.9" y1="288" x2="283.9" y2="290.4" stroke="#666" stroke-width="0.85"/>
<text x="283.9" y="295.9" font-size="4.6" fill="#505050" text-anchor="middle" font-weight="normal" >600</text>
<line x1="298.05" y1="288" x2="298.05" y2="289.6" stroke="#666" stroke-width="0.85"/>
<line x1="312.2" y1="288" x2="312.2" y2="290.4" stroke="#666" stroke-width="0.85"/>
<text x="312.2" y="295.9" font-size="4.6" fill="#505050" text-anchor="middle" font-weight="normal" >650</text>
<line x1="326.35" y1="288" x2="326.35" y2="289.6" stroke="#666" stroke-width="0.85"/>
<line x1="340.5" y1="288" x2="340.5" y2="290.4" stroke="#666" stroke-width="0.85"/>
<text x="340.5" y="295.9" font-size="4.6" fill="#505050" text-anchor="middle" font-weight="normal" >700</text>
<line x1="354.65" y1="288" x2="354.65" y2="289.6" stroke="#666" stroke-width="0.85"/>
<line x1="368.8" y1="288" x2="368.8" y2="290.4" stroke="#666" stroke-width="0.85"/>
<text x="368.8" y="295.9" font-size="4.6" fill="#505050" text-anchor="middle" font-weight="normal" >750</text>
<line x1="212.2" y1="283.8" x2="213.8" y2="283.8" stroke="#666" stroke-width="0.85"/>
<line x1="211.4" y1="275.7" x2="213.8" y2="275.7" stroke="#666" stroke-width="0.85"/>
<text x="209.8" y="277.9" font-size="4.6" fill="#505050" text-anchor="end" font-weight="normal" >0.2</text>
<line x1="212.2" y1="267.6" x2="213.8" y2="267.6" stroke="#666" stroke-width="0.85"/>
<line x1="211.4" y1="259.5" x2="213.8" y2="259.5" stroke="#666" stroke-width="0.85"/>
<text x="209.8" y="261.7" font-size="4.6" fill="#505050" text-anchor="end" font-weight="normal" >0.4</text>
<line x1="212.2" y1="251.4" x2="213.8" y2="251.4" stroke="#666" stroke-width="0.85"/>
<line x1="211.4" y1="243.3" x2="213.8" y2="243.3" stroke="#666" stroke-width="0.85"/>
<text x="209.8" y="245.5" font-size="4.6" fill="#505050" text-anchor="end" font-weight="normal" >0.6</text>
<line x1="212.2" y1="235.2" x2="213.8" y2="235.2" stroke="#666" stroke-width="0.85"/>
<line x1="211.4" y1="227.1" x2="213.8" y2="227.1" stroke="#666" stroke-width="0.85"/>
<text x="209.8" y="229.3" font-size="4.6" fill="#505050" text-anchor="end" font-weight="normal" >0.8</text>
<line x1="212.2" y1="219" x2="213.8" y2="219" stroke="#666" stroke-width="0.85"/>
<line x1="211.4" y1="210.9" x2="213.8" y2="210.9" stroke="#666" stroke-width="0.85"/>
<text x="209.8" y="213.1" font-size="4.6" fill="#505050" text-anchor="end" font-weight="normal" >1.0</text>
<line x1="212.2" y1="202.8" x2="213.8" y2="202.8" stroke="#666" stroke-width="0.85"/>
<line x1="211.4" y1="194.7" x2="213.8" y2="194.7" stroke="#666" stroke-width="0.85"/>
<text x="209.8" y="196.9" font-size="4.6" fill="#505050" text-anchor="end" font-weight="normal" >1.2</text>
<line x1="212.2" y1="186.6" x2="213.8" y2="186.6" stroke="#666" stroke-width="0.85"/>
<line x1="211.4" y1="178.5" x2="213.8" y2="178.5" stroke="#666" stroke-width="0.85"/>
<text x="209.8" y="180.7" font-size="4.6" fill="#505050" text-anchor="end" font-weight="normal" >1.4</text>
<text x="297.6" y="305" font-size="8.7" fill="#1a1a1a" text-anchor="middle" font-weight="normal" stroke="#1a1a1a" stroke-width="0.18" >&#955; (nm)</text>
<text transform="translate(199.3,227.7) rotate(-90)" font-size="8.3" fill="#1a1a1a" stroke="#1a1a1a" stroke-width="0.18" text-anchor="middle">Absorbance (a.u.)</text>
<polygon points="213.43,247.74 214.86,247.56 216.28,247.2 217.71,246.7 219.13,246.07 220.56,245.33 221.99,244.5 223.41,243.6 224.84,242.66 226.26,241.7 227.69,240.54 229.11,239.08 230.54,237.39 231.96,235.52 233.39,233.53 234.81,231.49 236.24,229.44 237.66,227.39 239.09,225.1 240.52,222.77 241.94,220.64 243.37,218.76 244.79,216.98 246.22,215.35 247.64,213.93 249.07,212.65 250.49,211.55 251.92,210.78 253.34,210.18 254.77,209.76 256.19,209.79 257.62,210.49 259.05,211.05 260.47,211.42 261.9,211.89 263.32,212.44 264.75,212.78 266.17,213.04 267.6,213.37 269.02,213.74 270.45,213.91 271.87,214.04 273.3,214.21 274.72,214.38 276.15,214.43 277.58,214.41 279,214.39 280.43,214.35 281.85,214.26 283.28,214.13 284.7,213.91 286.13,213.66 287.55,213.36 288.98,213 290.4,212.45 291.83,211.92 293.25,211.38 294.68,210.81 296.11,210.22 297.53,209.65 298.96,209.15 300.38,208.74 301.81,208.48 303.23,208.39 304.66,208.5 306.08,208.78 307.51,209.2 308.93,209.73 310.36,210.34 311.78,211 313.21,211.69 314.64,212.6 316.06,213.75 317.49,215.1 318.91,216.59 320.34,218.19 321.76,219.99 323.19,222.21 324.61,224.66 326.04,227.15 327.46,229.48 328.89,231.53 330.31,233.54 331.74,235.54 333.17,237.51 334.59,239.44 336.02,241.3 337.44,243.09 338.87,244.78 340.29,246.37 341.72,247.83 343.14,249.15 344.57,250.32 345.99,251.45 347.42,252.53 348.84,253.57 350.27,254.55 351.7,255.48 353.12,256.34 354.55,257.12 355.97,257.83 357.4,258.45 358.82,258.98 360.25,259.43 361.67,259.86 363.1,260.25 364.52,260.6 365.95,260.9 367.37,261.13 368.8,261.28 368.8,277.32 367.37,277.32 365.95,277.3 364.52,277.28 363.1,277.25 361.67,277.2 360.25,277.15 358.82,277.09 357.4,277.03 355.97,276.95 354.55,276.86 353.12,276.77 351.7,276.67 350.27,276.56 348.84,276.44 347.42,276.32 345.99,276.18 344.57,276.04 343.14,275.89 341.72,275.74 340.29,275.57 338.87,275.4 337.44,275.22 336.02,275.04 334.59,274.85 333.17,274.65 331.74,274.44 330.31,274.23 328.89,274.01 327.46,273.79 326.04,273.56 324.61,273.32 323.19,273.08 321.76,272.83 320.34,272.58 318.91,272.32 317.49,272.05 316.06,271.78 314.64,271.51 313.21,271.23 311.78,270.94 310.36,270.65 308.93,270.31 307.51,269.89 306.08,269.4 304.66,268.85 303.23,268.25 301.81,267.6 300.38,266.89 298.96,266.12 297.53,265.31 296.11,264.46 294.68,263.57 293.25,262.68 291.83,261.76 290.4,260.76 288.98,259.67 287.55,258.49 286.13,257.22 284.7,255.86 283.28,254.39 281.85,252.83 280.43,251.16 279,249.38 277.58,247.23 276.15,244.73 274.72,241.99 273.3,239.14 271.87,236.3 270.45,233.56 269.02,230.71 267.6,227.75 266.17,227.39 264.75,228.22 263.32,228.89 261.9,229.42 260.47,229.87 259.05,230.27 257.62,230.63 256.19,230.95 254.77,231.27 253.34,231.61 251.92,231.98 250.49,232.41 249.07,232.88 247.64,233.43 246.22,234.02 244.79,234.63 243.37,235.27 241.94,235.93 240.52,236.61 239.09,237.3 237.66,237.99 236.24,238.7 234.81,239.4 233.39,240.1 231.96,240.8 230.54,241.49 229.11,242.16 227.69,242.84 226.26,243.52 224.84,244.19 223.41,244.87 221.99,245.55 220.56,246.23 219.13,246.91 217.71,247.59 216.28,248.28 214.86,248.96 213.43,249.64" fill="url(#fanG)"/>
<path d="M213.43 249.64 L214.86 248.96 L216.28 248.28 L217.71 247.59 L219.13 246.91 L220.56 246.23 L221.99 245.55 L223.41 244.87 L224.84 244.19 L226.26 243.52 L227.69 242.84 L229.11 242.16 L230.54 241.49 L231.96 240.8 L233.39 240.1 L234.81 239.4 L236.24 238.7 L237.66 237.99 L239.09 237.3 L240.52 236.61 L241.94 235.93 L243.37 235.27 L244.79 234.63 L246.22 234.02 L247.64 233.43 L249.07 232.88 L250.49 232.38 L251.92 231.9 L253.34 231.45 L254.77 231.01 L256.19 230.57 L257.62 230.12 L259.05 229.66 L260.47 229.17 L261.9 228.65 L263.32 228.08 L264.75 227.46 L266.17 226.75 L267.6 225.93 L269.02 225.02 L270.45 224.04 L271.87 223.02 L273.3 221.97 L274.72 220.92 L276.15 219.89 L277.58 218.89 L279 217.94 L280.43 217.07 L281.85 216.3 L283.28 215.58 L284.7 214.9 L286.13 214.24 L287.55 213.62 L288.98 213.02 L290.4 212.45 L291.83 211.92 L293.25 211.38 L294.68 210.81 L296.11 210.22 L297.53 209.65 L298.96 209.15 L300.38 208.74 L301.81 208.48 L303.23 208.39 L304.66 208.5 L306.08 208.78 L307.51 209.2 L308.93 209.73 L310.36 210.34 L311.78 211 L313.21 211.69 L314.64 212.6 L316.06 213.75 L317.49 215.1 L318.91 216.59 L320.34 218.19 L321.76 219.99 L323.19 222.21 L324.61 224.66 L326.04 227.15 L327.46 229.48 L328.89 231.53 L330.31 233.54 L331.74 235.54 L333.17 237.51 L334.59 239.44 L336.02 241.3 L337.44 243.09 L338.87 244.78 L340.29 246.37 L341.72 247.83 L343.14 249.15 L344.57 250.32 L345.99 251.45 L347.42 252.53 L348.84 253.57 L350.27 254.55 L351.7 255.48 L353.12 256.34 L354.55 257.12 L355.97 257.83 L357.4 258.45 L358.82 258.98 L360.25 259.43 L361.67 259.86 L363.1 260.25 L364.52 260.6 L365.95 260.9 L367.37 261.13 L368.8 261.28" fill="none" stroke="rgb(75,67,192)" stroke-width="0.6" stroke-opacity="0.75"/>
<path d="M213.43 249.64 L214.86 248.96 L216.28 248.27 L217.71 247.59 L219.13 246.91 L220.56 246.23 L221.99 245.55 L223.41 244.87 L224.84 244.19 L226.26 243.51 L227.69 242.83 L229.11 242.16 L230.54 241.48 L231.96 240.79 L233.39 240.09 L234.81 239.37 L236.24 238.66 L237.66 237.95 L239.09 237.24 L240.52 236.54 L241.94 235.86 L243.37 235.2 L244.79 234.57 L246.22 233.97 L247.64 233.4 L249.07 232.88 L250.49 232.41 L251.92 231.97 L253.34 231.55 L254.77 231.15 L256.19 230.76 L257.62 230.35 L259.05 229.93 L260.47 229.48 L261.9 228.98 L263.32 228.44 L264.75 227.83 L266.17 227.11 L267.6 226.24 L269.02 225.27 L270.45 224.22 L271.87 223.12 L273.3 222 L274.72 220.88 L276.15 219.8 L277.58 218.78 L279 217.85 L280.43 217.05 L281.85 216.32 L283.28 215.62 L284.7 214.96 L286.13 214.33 L287.55 213.74 L288.98 213.17 L290.4 212.64 L291.83 212.1 L293.25 211.51 L294.68 210.92 L296.11 210.37 L297.53 209.89 L298.96 209.53 L300.38 209.33 L301.81 209.32 L303.23 209.52 L304.66 209.89 L306.08 210.41 L307.51 211.04 L308.93 211.73 L310.36 212.46 L311.78 213.29 L313.21 214.39 L314.64 215.7 L316.06 217.19 L317.49 218.79 L318.91 220.47 L320.34 222.42 L321.76 224.65 L323.19 227.02 L324.61 229.38 L326.04 231.61 L327.46 233.77 L328.89 236.01 L330.31 238.28 L331.74 240.53 L333.17 242.72 L334.59 244.81 L336.02 246.76 L337.44 248.51 L338.87 250.03 L340.29 251.28 L341.72 252.44 L343.14 253.54 L344.57 254.59 L345.99 255.57 L347.42 256.48 L348.84 257.32 L350.27 258.08 L351.7 258.76 L353.12 259.35 L354.55 259.84 L355.97 260.26 L357.4 260.65 L358.82 261.04 L360.25 261.4 L361.67 261.72 L363.1 262.01 L364.52 262.25 L365.95 262.43 L367.37 262.55 L368.8 262.59" fill="none" stroke="rgb(77,68,190)" stroke-width="0.6" stroke-opacity="0.75"/>
<path d="M213.43 249.62 L214.86 248.94 L216.28 248.26 L217.71 247.58 L219.13 246.9 L220.56 246.22 L221.99 245.54 L223.41 244.86 L224.84 244.18 L226.26 243.5 L227.69 242.82 L229.11 242.14 L230.54 241.46 L231.96 240.77 L233.39 240.05 L234.81 239.33 L236.24 238.6 L237.66 237.87 L239.09 237.15 L240.52 236.45 L241.94 235.76 L243.37 235.1 L244.79 234.47 L246.22 233.88 L247.64 233.33 L249.07 232.83 L250.49 232.39 L251.92 231.98 L253.34 231.6 L254.77 231.24 L256.19 230.88 L257.62 230.5 L259.05 230.11 L260.47 229.69 L261.9 229.21 L263.32 228.69 L264.75 228.08 L266.17 227.32 L267.6 226.39 L269.02 225.34 L270.45 224.2 L271.87 223.01 L273.3 221.82 L274.72 220.65 L276.15 219.55 L277.58 218.57 L279 217.73 L280.43 216.98 L281.85 216.27 L283.28 215.6 L284.7 214.98 L286.13 214.38 L287.55 213.82 L288.98 213.28 L290.4 212.73 L291.83 212.14 L293.25 211.56 L294.68 211.02 L296.11 210.58 L297.53 210.27 L298.96 210.13 L300.38 210.22 L301.81 210.52 L303.23 211 L304.66 211.62 L306.08 212.33 L307.51 213.11 L308.93 213.91 L310.36 214.93 L311.78 216.21 L313.21 217.68 L314.64 219.29 L316.06 220.97 L317.49 222.74 L318.91 224.75 L320.34 226.94 L321.76 229.22 L323.19 231.52 L324.61 233.78 L326.04 236.23 L327.46 238.83 L328.89 241.48 L330.31 244.09 L331.74 246.55 L333.17 248.76 L334.59 250.62 L336.02 252.04 L337.44 253.24 L338.87 254.37 L340.29 255.43 L341.72 256.41 L343.14 257.32 L344.57 258.15 L345.99 258.89 L347.42 259.55 L348.84 260.13 L350.27 260.62 L351.7 261.02 L353.12 261.39 L354.55 261.75 L355.97 262.09 L357.4 262.41 L358.82 262.72 L360.25 262.99 L361.67 263.23 L363.1 263.44 L364.52 263.61 L365.95 263.74 L367.37 263.82 L368.8 263.84" fill="none" stroke="rgb(79,68,189)" stroke-width="0.6" stroke-opacity="0.75"/>
<path d="M213.43 249.6 L214.86 248.92 L216.28 248.24 L217.71 247.57 L219.13 246.89 L220.56 246.21 L221.99 245.53 L223.41 244.85 L224.84 244.17 L226.26 243.49 L227.69 242.81 L229.11 242.12 L230.54 241.44 L231.96 240.73 L233.39 240.01 L234.81 239.27 L236.24 238.52 L237.66 237.78 L239.09 237.05 L240.52 236.33 L241.94 235.63 L243.37 234.96 L244.79 234.34 L246.22 233.75 L247.64 233.22 L249.07 232.75 L250.49 232.33 L251.92 231.96 L253.34 231.61 L254.77 231.27 L256.19 230.94 L257.62 230.59 L259.05 230.22 L260.47 229.82 L261.9 229.36 L263.32 228.83 L264.75 228.22 L266.17 227.39 L267.6 226.37 L269.02 225.21 L270.45 223.97 L271.87 222.7 L273.3 221.44 L274.72 220.26 L276.15 219.21 L277.58 218.33 L279 217.56 L280.43 216.85 L281.85 216.17 L283.28 215.54 L284.7 214.95 L286.13 214.39 L287.55 213.85 L288.98 213.29 L290.4 212.7 L291.83 212.12 L293.25 211.61 L294.68 211.21 L296.11 210.95 L297.53 210.9 L298.96 211.09 L300.38 211.5 L301.81 212.09 L303.23 212.82 L304.66 213.62 L306.08 214.47 L307.51 215.4 L308.93 216.62 L310.36 218.06 L311.78 219.67 L313.21 221.38 L314.64 223.12 L316.06 224.96 L317.49 226.96 L318.91 229.08 L320.34 231.31 L321.76 233.62 L323.19 236.16 L324.61 239.09 L326.04 242.23 L327.46 245.35 L328.89 248.26 L330.31 250.73 L331.74 252.55 L333.17 253.83 L334.59 255.01 L336.02 256.1 L337.44 257.1 L338.87 258.01 L340.29 258.84 L341.72 259.58 L343.14 260.24 L344.57 260.81 L345.99 261.31 L347.42 261.72 L348.84 262.08 L350.27 262.42 L351.7 262.75 L353.12 263.07 L354.55 263.38 L355.97 263.66 L357.4 263.93 L358.82 264.17 L360.25 264.39 L361.67 264.58 L363.1 264.74 L364.52 264.87 L365.95 264.96 L367.37 265.02 L368.8 265.04" fill="none" stroke="rgb(82,69,187)" stroke-width="0.6" stroke-opacity="0.75"/>
<path d="M213.43 249.57 L214.86 248.9 L216.28 248.22 L217.71 247.55 L219.13 246.87 L220.56 246.2 L221.99 245.52 L223.41 244.84 L224.84 244.15 L226.26 243.47 L227.69 242.79 L229.11 242.1 L230.54 241.41 L231.96 240.69 L233.39 239.95 L234.81 239.19 L236.24 238.43 L237.66 237.67 L239.09 236.91 L240.52 236.18 L241.94 235.47 L243.37 234.8 L244.79 234.17 L246.22 233.6 L247.64 233.09 L249.07 232.64 L250.49 232.25 L251.92 231.9 L253.34 231.58 L254.77 231.27 L256.19 230.95 L257.62 230.63 L259.05 230.27 L260.47 229.87 L261.9 229.42 L263.32 228.89 L264.75 228.22 L266.17 227.29 L267.6 226.15 L269.02 224.87 L270.45 223.53 L271.87 222.18 L273.3 220.91 L274.72 219.78 L276.15 218.86 L277.58 218.07 L279 217.35 L280.43 216.67 L281.85 216.03 L283.28 215.44 L284.7 214.88 L286.13 214.34 L287.55 213.77 L288.98 213.18 L290.4 212.62 L291.83 212.14 L293.25 211.78 L294.68 211.59 L296.11 211.63 L297.53 211.94 L298.96 212.48 L300.38 213.18 L301.81 214.01 L303.23 214.9 L304.66 215.82 L306.08 216.94 L307.51 218.34 L308.93 219.94 L310.36 221.67 L311.78 223.45 L313.21 225.22 L314.64 227.06 L316.06 229.02 L317.49 231.1 L318.91 233.35 L320.34 235.82 L321.76 238.99 L323.19 242.67 L324.61 246.45 L326.04 249.9 L327.46 252.59 L328.89 254.19 L330.31 255.45 L331.74 256.59 L333.17 257.63 L334.59 258.57 L336.02 259.41 L337.44 260.16 L338.87 260.82 L340.29 261.4 L341.72 261.9 L343.14 262.33 L344.57 262.7 L345.99 263.03 L347.42 263.36 L348.84 263.68 L350.27 263.98 L351.7 264.27 L353.12 264.55 L354.55 264.81 L355.97 265.05 L357.4 265.27 L358.82 265.47 L360.25 265.65 L361.67 265.81 L363.1 265.94 L364.52 266.04 L365.95 266.12 L367.37 266.17 L368.8 266.18" fill="none" stroke="rgb(84,70,186)" stroke-width="0.6" stroke-opacity="0.75"/>
<path d="M213.43 249.53 L214.86 248.86 L216.28 248.2 L217.71 247.53 L219.13 246.85 L220.56 246.18 L221.99 245.5 L223.41 244.82 L224.84 244.13 L226.26 243.45 L227.69 242.76 L229.11 242.07 L230.54 241.37 L231.96 240.64 L233.39 239.88 L234.81 239.1 L236.24 238.32 L237.66 237.53 L239.09 236.76 L240.52 236.01 L241.94 235.29 L243.37 234.61 L244.79 233.98 L246.22 233.42 L247.64 232.92 L249.07 232.5 L250.49 232.13 L251.92 231.81 L253.34 231.5 L254.77 231.21 L256.19 230.92 L257.62 230.61 L259.05 230.26 L260.47 229.86 L261.9 229.39 L263.32 228.85 L264.75 228.08 L266.17 227 L267.6 225.71 L269.02 224.3 L270.45 222.86 L271.87 221.49 L273.3 220.28 L274.72 219.32 L276.15 218.51 L277.58 217.77 L279 217.09 L280.43 216.45 L281.85 215.86 L283.28 215.3 L284.7 214.76 L286.13 214.18 L287.55 213.59 L288.98 213.05 L290.4 212.6 L291.83 212.3 L293.25 212.19 L294.68 212.35 L296.11 212.79 L297.53 213.45 L298.96 214.27 L300.38 215.2 L301.81 216.17 L303.23 217.2 L304.66 218.53 L306.08 220.1 L307.51 221.84 L308.93 223.66 L310.36 225.47 L311.78 227.24 L313.21 229.04 L314.64 230.94 L316.06 233.04 L317.49 235.41 L318.91 238.44 L320.34 242.66 L321.76 247.27 L323.19 251.41 L324.61 254.22 L326.04 255.63 L327.46 256.87 L328.89 257.98 L330.31 258.97 L331.74 259.85 L333.17 260.63 L334.59 261.31 L336.02 261.9 L337.44 262.41 L338.87 262.86 L340.29 263.25 L341.72 263.58 L343.14 263.91 L344.57 264.22 L345.99 264.53 L347.42 264.83 L348.84 265.11 L350.27 265.38 L351.7 265.64 L353.12 265.88 L354.55 266.1 L355.97 266.31 L357.4 266.5 L358.82 266.67 L360.25 266.83 L361.67 266.96 L363.1 267.07 L364.52 267.15 L365.95 267.22 L367.37 267.26 L368.8 267.27" fill="none" stroke="rgb(87,71,182)" stroke-width="0.6" stroke-opacity="0.75"/>
<path d="M213.43 249.48 L214.86 248.83 L216.28 248.17 L217.71 247.5 L219.13 246.83 L220.56 246.16 L221.99 245.48 L223.41 244.8 L224.84 244.11 L226.26 243.42 L227.69 242.73 L229.11 242.03 L230.54 241.32 L231.96 240.57 L233.39 239.79 L234.81 238.99 L236.24 238.18 L237.66 237.38 L239.09 236.58 L240.52 235.81 L241.94 235.08 L243.37 234.39 L244.79 233.77 L246.22 233.21 L247.64 232.74 L249.07 232.33 L250.49 231.99 L251.92 231.68 L253.34 231.4 L254.77 231.12 L256.19 230.84 L257.62 230.53 L259.05 230.18 L260.47 229.77 L261.9 229.28 L263.32 228.68 L264.75 227.73 L266.17 226.47 L267.6 225.01 L269.02 223.49 L270.45 222.02 L271.87 220.71 L273.3 219.7 L274.72 218.87 L276.15 218.12 L277.58 217.43 L279 216.79 L280.43 216.2 L281.85 215.65 L283.28 215.1 L284.7 214.51 L286.13 213.93 L287.55 213.41 L288.98 213 L290.4 212.77 L291.83 212.75 L293.25 213.05 L294.68 213.63 L296.11 214.42 L297.53 215.36 L298.96 216.38 L300.38 217.41 L301.81 218.63 L303.23 220.16 L304.66 221.89 L306.08 223.74 L307.51 225.62 L308.93 227.42 L310.36 229.13 L311.78 230.87 L313.21 232.77 L314.64 234.96 L316.06 237.61 L317.49 242.01 L318.91 247.62 L320.34 252.69 L321.76 255.5 L323.19 256.89 L324.61 258.11 L326.04 259.19 L327.46 260.14 L328.89 260.97 L330.31 261.68 L331.74 262.3 L333.17 262.84 L334.59 263.3 L336.02 263.7 L337.44 264.06 L338.87 264.39 L340.29 264.7 L341.72 265.01 L343.14 265.31 L344.57 265.6 L345.99 265.88 L347.42 266.14 L348.84 266.4 L350.27 266.64 L351.7 266.87 L353.12 267.08 L354.55 267.28 L355.97 267.47 L357.4 267.63 L358.82 267.78 L360.25 267.92 L361.67 268.03 L363.1 268.13 L364.52 268.2 L365.95 268.25 L367.37 268.29 L368.8 268.3" fill="none" stroke="rgb(91,72,178)" stroke-width="0.6" stroke-opacity="0.75"/>
<path d="M213.43 249.43 L214.86 248.78 L216.28 248.13 L217.71 247.47 L219.13 246.8 L220.56 246.13 L221.99 245.45 L223.41 244.77 L224.84 244.08 L226.26 243.39 L227.69 242.69 L229.11 241.98 L230.54 241.26 L231.96 240.5 L233.39 239.69 L234.81 238.87 L236.24 238.03 L237.66 237.2 L239.09 236.38 L240.52 235.59 L241.94 234.84 L243.37 234.15 L244.79 233.52 L246.22 232.98 L247.64 232.52 L249.07 232.14 L250.49 231.81 L251.92 231.52 L253.34 231.25 L254.77 230.99 L256.19 230.71 L257.62 230.39 L259.05 230.03 L260.47 229.59 L261.9 229.08 L263.32 228.32 L264.75 227.14 L266.17 225.66 L267.6 224.06 L269.02 222.48 L270.45 221.07 L271.87 220 L273.3 219.16 L274.72 218.39 L276.15 217.7 L277.58 217.06 L279 216.47 L280.43 215.92 L281.85 215.36 L283.28 214.76 L284.7 214.2 L286.13 213.71 L287.55 213.36 L288.98 213.19 L290.4 213.3 L291.83 213.76 L293.25 214.48 L294.68 215.4 L296.11 216.44 L297.53 217.54 L298.96 218.68 L300.38 220.12 L301.81 221.82 L303.23 223.69 L304.66 225.62 L306.08 227.52 L307.51 229.25 L308.93 230.88 L310.36 232.58 L311.78 234.54 L313.21 236.96 L314.64 240.62 L316.06 247.17 L317.49 253.59 L318.91 256.54 L320.34 257.94 L321.76 259.17 L323.19 260.23 L324.61 261.15 L326.04 261.93 L327.46 262.6 L328.89 263.17 L330.31 263.66 L331.74 264.08 L333.17 264.45 L334.59 264.79 L336.02 265.11 L337.44 265.42 L338.87 265.72 L340.29 266.02 L341.72 266.3 L343.14 266.58 L344.57 266.84 L345.99 267.1 L347.42 267.34 L348.84 267.57 L350.27 267.79 L351.7 268 L353.12 268.19 L354.55 268.37 L355.97 268.54 L357.4 268.68 L358.82 268.82 L360.25 268.94 L361.67 269.04 L363.1 269.12 L364.52 269.19 L365.95 269.23 L367.37 269.26 L368.8 269.27" fill="none" stroke="rgb(95,72,175)" stroke-width="0.6" stroke-opacity="0.75"/>
<path d="M213.43 249.37 L214.86 248.74 L216.28 248.09 L217.71 247.44 L219.13 246.77 L220.56 246.1 L221.99 245.43 L223.41 244.74 L224.84 244.05 L226.26 243.35 L227.69 242.64 L229.11 241.93 L230.54 241.19 L231.96 240.41 L233.39 239.58 L234.81 238.73 L236.24 237.86 L237.66 237 L239.09 236.16 L240.52 235.34 L241.94 234.58 L243.37 233.88 L244.79 233.26 L246.22 232.72 L247.64 232.29 L249.07 231.92 L250.49 231.61 L251.92 231.33 L253.34 231.07 L254.77 230.81 L256.19 230.52 L257.62 230.19 L259.05 229.8 L260.47 229.33 L261.9 228.74 L263.32 227.7 L264.75 226.24 L266.17 224.57 L267.6 222.88 L269.02 221.37 L270.45 220.24 L271.87 219.37 L273.3 218.59 L274.72 217.89 L276.15 217.26 L277.58 216.67 L279 216.12 L280.43 215.54 L281.85 214.95 L283.28 214.4 L284.7 213.95 L286.13 213.66 L287.55 213.58 L288.98 213.85 L290.4 214.46 L291.83 215.33 L293.25 216.38 L294.68 217.52 L296.11 218.68 L297.53 220 L298.96 221.65 L300.38 223.52 L301.81 225.49 L303.23 227.47 L304.66 229.33 L306.08 230.94 L307.51 232.48 L308.93 234.21 L310.36 236.35 L311.78 239.14 L313.21 245.51 L314.64 253.81 L316.06 257.36 L317.49 258.8 L318.91 260.04 L320.34 261.1 L321.76 262 L323.19 262.76 L324.61 263.39 L326.04 263.93 L327.46 264.38 L328.89 264.77 L330.31 265.12 L331.74 265.44 L333.17 265.76 L334.59 266.06 L336.02 266.36 L337.44 266.66 L338.87 266.94 L340.29 267.21 L341.72 267.48 L343.14 267.73 L344.57 267.98 L345.99 268.21 L347.42 268.44 L348.84 268.65 L350.27 268.85 L351.7 269.04 L353.12 269.21 L354.55 269.38 L355.97 269.53 L357.4 269.66 L358.82 269.78 L360.25 269.89 L361.67 269.98 L363.1 270.06 L364.52 270.11 L365.95 270.16 L367.37 270.18 L368.8 270.19" fill="none" stroke="rgb(98,73,171)" stroke-width="0.6" stroke-opacity="0.75"/>
<path d="M213.43 249.31 L214.86 248.68 L216.28 248.05 L217.71 247.4 L219.13 246.74 L220.56 246.07 L221.99 245.4 L223.41 244.71 L224.84 244.01 L226.26 243.31 L227.69 242.59 L229.11 241.87 L230.54 241.12 L231.96 240.31 L233.39 239.45 L234.81 238.57 L236.24 237.67 L237.66 236.78 L239.09 235.9 L240.52 235.07 L241.94 234.29 L243.37 233.58 L244.79 232.96 L246.22 232.44 L247.64 232.02 L249.07 231.67 L250.49 231.38 L251.92 231.11 L253.34 230.85 L254.77 230.58 L256.19 230.27 L257.62 229.91 L259.05 229.48 L260.47 228.95 L261.9 228.12 L263.32 226.73 L264.75 225.01 L266.17 223.21 L267.6 221.59 L269.02 220.4 L270.45 219.51 L271.87 218.72 L273.3 218.01 L274.72 217.37 L276.15 216.79 L277.58 216.24 L279 215.65 L280.43 215.06 L281.85 214.54 L283.28 214.13 L284.7 213.91 L286.13 213.96 L287.55 214.41 L288.98 215.18 L290.4 216.2 L291.83 217.37 L293.25 218.59 L294.68 219.84 L296.11 221.39 L297.53 223.22 L298.96 225.22 L300.38 227.27 L301.81 229.26 L303.23 231 L304.66 232.48 L306.08 233.99 L307.51 235.83 L308.93 238.27 L310.36 242.53 L311.78 252.71 L313.21 257.94 L314.64 259.43 L316.06 260.71 L317.49 261.79 L318.91 262.69 L320.34 263.44 L321.76 264.07 L323.19 264.58 L324.61 265.01 L326.04 265.38 L327.46 265.71 L328.89 266.02 L330.31 266.33 L331.74 266.63 L333.17 266.93 L334.59 267.22 L336.02 267.5 L337.44 267.78 L338.87 268.04 L340.29 268.3 L341.72 268.55 L343.14 268.79 L344.57 269.02 L345.99 269.23 L347.42 269.44 L348.84 269.64 L350.27 269.82 L351.7 270 L353.12 270.16 L354.55 270.31 L355.97 270.45 L357.4 270.57 L358.82 270.68 L360.25 270.78 L361.67 270.86 L363.1 270.93 L364.52 270.98 L365.95 271.02 L367.37 271.05 L368.8 271.06" fill="none" stroke="rgb(101,73,168)" stroke-width="0.6" stroke-opacity="0.75"/>
<path d="M213.43 249.24 L214.86 248.63 L216.28 248 L217.71 247.36 L219.13 246.71 L220.56 246.04 L221.99 245.36 L223.41 244.67 L224.84 243.97 L226.26 243.26 L227.69 242.53 L229.11 241.8 L230.54 241.03 L231.96 240.19 L233.39 239.3 L234.81 238.38 L236.24 237.45 L237.66 236.53 L239.09 235.63 L240.52 234.77 L241.94 233.97 L243.37 233.26 L244.79 232.64 L246.22 232.14 L247.64 231.73 L249.07 231.4 L250.49 231.11 L251.92 230.84 L253.34 230.58 L254.77 230.29 L256.19 229.95 L257.62 229.55 L259.05 229.05 L260.47 228.39 L261.9 227.12 L263.32 225.38 L264.75 223.48 L266.17 221.75 L267.6 220.48 L269.02 219.57 L270.45 218.77 L271.87 218.06 L273.3 217.42 L274.72 216.84 L276.15 216.28 L277.58 215.68 L279 215.11 L280.43 214.61 L281.85 214.26 L283.28 214.13 L284.7 214.35 L286.13 214.97 L287.55 215.92 L288.98 217.07 L290.4 218.35 L291.83 219.64 L293.25 221.06 L294.68 222.82 L296.11 224.82 L297.53 226.92 L298.96 229.01 L300.38 230.95 L301.81 232.5 L303.23 233.9 L304.66 235.46 L306.08 237.53 L307.51 240.43 L308.93 249.19 L310.36 258.25 L311.78 259.83 L313.21 261.17 L314.64 262.29 L316.06 263.22 L317.49 263.99 L318.91 264.62 L320.34 265.13 L321.76 265.55 L323.19 265.91 L324.61 266.22 L326.04 266.52 L327.46 266.82 L328.89 267.13 L330.31 267.42 L331.74 267.71 L333.17 268 L334.59 268.27 L336.02 268.54 L337.44 268.8 L338.87 269.05 L340.29 269.29 L341.72 269.53 L343.14 269.75 L344.57 269.97 L345.99 270.17 L347.42 270.36 L348.84 270.55 L350.27 270.72 L351.7 270.88 L353.12 271.03 L354.55 271.17 L355.97 271.3 L357.4 271.42 L358.82 271.52 L360.25 271.61 L361.67 271.68 L363.1 271.75 L364.52 271.8 L365.95 271.83 L367.37 271.86 L368.8 271.86" fill="none" stroke="rgb(103,73,166)" stroke-width="0.6" stroke-opacity="0.75"/>
<path d="M213.43 249.17 L214.86 248.57 L216.28 247.95 L217.71 247.32 L219.13 246.67 L220.56 246.01 L221.99 245.33 L223.41 244.63 L224.84 243.93 L226.26 243.21 L227.69 242.47 L229.11 241.72 L230.54 240.93 L231.96 240.06 L233.39 239.14 L234.81 238.18 L236.24 237.21 L237.66 236.25 L239.09 235.32 L240.52 234.44 L241.94 233.62 L243.37 232.9 L244.79 232.3 L246.22 231.81 L247.64 231.41 L249.07 231.09 L250.49 230.8 L251.92 230.53 L253.34 230.24 L254.77 229.92 L256.19 229.54 L257.62 229.06 L259.05 228.47 L260.47 227.39 L261.9 225.67 L263.32 223.69 L264.75 221.83 L266.17 220.49 L267.6 219.56 L269.02 218.74 L270.45 218.03 L271.87 217.39 L273.3 216.81 L274.72 216.24 L276.15 215.65 L277.58 215.09 L279 214.63 L280.43 214.35 L281.85 214.32 L283.28 214.74 L284.7 215.56 L286.13 216.67 L287.55 217.96 L288.98 219.32 L290.4 220.68 L291.83 222.34 L293.25 224.29 L294.68 226.42 L296.11 228.59 L297.53 230.68 L298.96 232.47 L300.38 233.88 L301.81 235.26 L303.23 236.97 L304.66 239.4 L306.08 243.69 L307.51 257.14 L308.93 259.96 L310.36 261.39 L311.78 262.58 L313.21 263.57 L314.64 264.38 L316.06 265.04 L317.49 265.57 L318.91 266 L320.34 266.36 L321.76 266.66 L323.19 266.95 L324.61 267.24 L326.04 267.55 L327.46 267.84 L328.89 268.14 L330.31 268.42 L331.74 268.7 L333.17 268.97 L334.59 269.23 L336.02 269.48 L337.44 269.73 L338.87 269.97 L340.29 270.2 L341.72 270.42 L343.14 270.63 L344.57 270.83 L345.99 271.03 L347.42 271.21 L348.84 271.38 L350.27 271.55 L351.7 271.7 L353.12 271.84 L354.55 271.97 L355.97 272.09 L357.4 272.2 L358.82 272.29 L360.25 272.38 L361.67 272.45 L363.1 272.51 L364.52 272.55 L365.95 272.59 L367.37 272.61 L368.8 272.61" fill="none" stroke="rgb(107,73,162)" stroke-width="0.6" stroke-opacity="0.75"/>
<path d="M213.43 249.09 L214.86 248.5 L216.28 247.9 L217.71 247.28 L219.13 246.63 L220.56 245.97 L221.99 245.29 L223.41 244.59 L224.84 243.88 L226.26 243.15 L227.69 242.4 L229.11 241.64 L230.54 240.81 L231.96 239.91 L233.39 238.95 L234.81 237.95 L236.24 236.94 L237.66 235.94 L239.09 234.98 L240.52 234.07 L241.94 233.24 L243.37 232.52 L244.79 231.92 L246.22 231.45 L247.64 231.06 L249.07 230.74 L250.49 230.44 L251.92 230.15 L253.34 229.84 L254.77 229.46 L256.19 229 L257.62 228.43 L259.05 227.54 L260.47 225.87 L261.9 223.81 L263.32 221.84 L264.75 220.43 L266.17 219.47 L267.6 218.64 L269.02 217.92 L270.45 217.28 L271.87 216.71 L273.3 216.13 L274.72 215.53 L276.15 215 L277.58 214.59 L279 214.39 L280.43 214.54 L281.85 215.16 L283.28 216.17 L284.7 217.44 L286.13 218.85 L287.55 220.28 L288.98 221.8 L290.4 223.67 L291.83 225.79 L293.25 228.02 L294.68 230.22 L296.11 232.27 L297.53 233.85 L298.96 235.18 L300.38 236.65 L301.81 238.63 L303.23 241.53 L304.66 250.94 L306.08 259.79 L307.51 261.33 L308.93 262.63 L310.36 263.7 L311.78 264.58 L313.21 265.3 L314.64 265.87 L316.06 266.34 L317.49 266.71 L318.91 267.03 L320.34 267.32 L321.76 267.6 L323.19 267.89 L324.61 268.19 L326.04 268.48 L327.46 268.77 L328.89 269.05 L330.31 269.32 L331.74 269.59 L333.17 269.85 L334.59 270.1 L336.02 270.34 L337.44 270.58 L338.87 270.8 L340.29 271.02 L341.72 271.23 L343.14 271.43 L344.57 271.63 L345.99 271.81 L347.42 271.98 L348.84 272.15 L350.27 272.3 L351.7 272.45 L353.12 272.58 L354.55 272.7 L355.97 272.82 L357.4 272.92 L358.82 273.01 L360.25 273.09 L361.67 273.15 L363.1 273.21 L364.52 273.25 L365.95 273.29 L367.37 273.3 L368.8 273.31" fill="none" stroke="rgb(116,73,155)" stroke-width="0.6" stroke-opacity="0.75"/>
<path d="M213.43 249 L214.86 248.43 L216.28 247.84 L217.71 247.23 L219.13 246.59 L220.56 245.93 L221.99 245.25 L223.41 244.54 L224.84 243.82 L226.26 243.08 L227.69 242.32 L229.11 241.54 L230.54 240.69 L231.96 239.74 L233.39 238.74 L234.81 237.69 L236.24 236.64 L237.66 235.6 L239.09 234.6 L240.52 233.67 L241.94 232.83 L243.37 232.1 L244.79 231.52 L246.22 231.05 L247.64 230.67 L249.07 230.34 L250.49 230.03 L251.92 229.71 L253.34 229.33 L254.77 228.88 L256.19 228.31 L257.62 227.54 L259.05 225.96 L260.47 223.85 L261.9 221.78 L263.32 220.3 L264.75 219.31 L266.17 218.47 L267.6 217.74 L269.02 217.1 L270.45 216.53 L271.87 215.94 L273.3 215.35 L274.72 214.85 L276.15 214.51 L277.58 214.41 L279 214.77 L280.43 215.61 L281.85 216.81 L283.28 218.22 L284.7 219.73 L286.13 221.22 L287.55 222.97 L288.98 225.04 L290.4 227.29 L291.83 229.59 L293.25 231.8 L294.68 233.69 L296.11 235.14 L297.53 236.5 L298.96 238.15 L300.38 240.5 L301.81 244.05 L303.23 257.78 L304.66 260.98 L306.08 262.4 L307.51 263.58 L308.93 264.56 L310.36 265.37 L311.78 266.02 L313.21 266.54 L314.64 266.96 L316.06 267.31 L317.49 267.6 L318.91 267.88 L320.34 268.16 L321.76 268.46 L323.19 268.76 L324.61 269.05 L326.04 269.33 L327.46 269.61 L328.89 269.87 L330.31 270.14 L331.74 270.39 L333.17 270.64 L334.59 270.88 L336.02 271.12 L337.44 271.34 L338.87 271.56 L340.29 271.77 L341.72 271.97 L343.14 272.16 L344.57 272.35 L345.99 272.52 L347.42 272.69 L348.84 272.84 L350.27 272.99 L351.7 273.13 L353.12 273.26 L354.55 273.37 L355.97 273.48 L357.4 273.58 L358.82 273.66 L360.25 273.74 L361.67 273.8 L363.1 273.86 L364.52 273.9 L365.95 273.93 L367.37 273.95 L368.8 273.95" fill="none" stroke="rgb(123,73,149)" stroke-width="0.6" stroke-opacity="0.75"/>
<path d="M213.43 248.91 L214.86 248.36 L216.28 247.79 L217.71 247.18 L219.13 246.55 L220.56 245.89 L221.99 245.2 L223.41 244.49 L224.84 243.76 L226.26 243 L227.69 242.23 L229.11 241.43 L230.54 240.54 L231.96 239.55 L233.39 238.5 L234.81 237.41 L236.24 236.31 L237.66 235.22 L239.09 234.19 L240.52 233.23 L241.94 232.37 L243.37 231.65 L244.79 231.07 L246.22 230.61 L247.64 230.23 L249.07 229.88 L250.49 229.54 L251.92 229.16 L253.34 228.7 L254.77 228.12 L256.19 227.39 L257.62 225.93 L259.05 223.8 L260.47 221.64 L261.9 220.09 L263.32 219.08 L264.75 218.22 L266.17 217.49 L267.6 216.85 L269.02 216.27 L270.45 215.68 L271.87 215.11 L273.3 214.64 L274.72 214.38 L276.15 214.43 L277.58 215.03 L279 216.1 L280.43 217.47 L281.85 219.02 L283.28 220.59 L284.7 222.22 L286.13 224.2 L287.55 226.44 L288.98 228.79 L290.4 231.12 L291.83 233.28 L293.25 235 L294.68 236.41 L296.11 237.9 L297.53 239.83 L298.96 242.58 L300.38 249.27 L301.81 260.3 L303.23 261.86 L304.66 263.18 L306.08 264.29 L307.51 265.2 L308.93 265.95 L310.36 266.56 L311.78 267.06 L313.21 267.46 L314.64 267.8 L316.06 268.09 L317.49 268.37 L318.91 268.66 L320.34 268.96 L321.76 269.25 L323.19 269.53 L324.61 269.81 L326.04 270.09 L327.46 270.36 L328.89 270.62 L330.31 270.87 L331.74 271.12 L333.17 271.36 L334.59 271.59 L336.02 271.81 L337.44 272.03 L338.87 272.24 L340.29 272.44 L341.72 272.64 L343.14 272.82 L344.57 273 L345.99 273.17 L347.42 273.33 L348.84 273.48 L350.27 273.62 L351.7 273.75 L353.12 273.87 L354.55 273.98 L355.97 274.09 L357.4 274.18 L358.82 274.26 L360.25 274.33 L361.67 274.39 L363.1 274.44 L364.52 274.48 L365.95 274.51 L367.37 274.53 L368.8 274.54" fill="none" stroke="rgb(128,73,144)" stroke-width="0.6" stroke-opacity="0.75"/>
<path d="M213.43 248.81 L214.86 248.29 L216.28 247.73 L217.71 247.13 L219.13 246.5 L220.56 245.84 L221.99 245.15 L223.41 244.43 L224.84 243.69 L226.26 242.92 L227.69 242.13 L229.11 241.31 L230.54 240.37 L231.96 239.34 L233.39 238.23 L234.81 237.09 L236.24 235.93 L237.66 234.81 L239.09 233.73 L240.52 232.75 L241.94 231.88 L243.37 231.16 L244.79 230.59 L246.22 230.12 L247.64 229.72 L249.07 229.34 L250.49 228.94 L251.92 228.46 L253.34 227.87 L254.77 227.12 L256.19 225.79 L257.62 223.65 L259.05 221.42 L260.47 219.8 L261.9 218.77 L263.32 217.9 L264.75 217.16 L266.17 216.52 L267.6 215.94 L269.02 215.34 L270.45 214.79 L271.87 214.39 L273.3 214.21 L274.72 214.49 L276.15 215.34 L277.58 216.61 L279 218.16 L280.43 219.81 L281.85 221.43 L283.28 223.28 L284.7 225.47 L286.13 227.84 L287.55 230.26 L288.98 232.59 L290.4 234.63 L291.83 236.25 L293.25 237.75 L294.68 239.45 L296.11 241.69 L297.53 244.8 L298.96 254.05 L300.38 261 L301.81 262.47 L303.23 263.72 L304.66 264.77 L306.08 265.65 L307.51 266.37 L308.93 266.97 L310.36 267.45 L311.78 267.86 L313.21 268.2 L314.64 268.5 L316.06 268.79 L317.49 269.08 L318.91 269.37 L320.34 269.66 L321.76 269.95 L323.19 270.23 L324.61 270.5 L326.04 270.76 L327.46 271.02 L328.89 271.28 L330.31 271.52 L331.74 271.76 L333.17 272 L334.59 272.22 L336.02 272.44 L337.44 272.65 L338.87 272.85 L340.29 273.05 L341.72 273.23 L343.14 273.41 L344.57 273.58 L345.99 273.75 L347.42 273.9 L348.84 274.05 L350.27 274.18 L351.7 274.31 L353.12 274.43 L354.55 274.53 L355.97 274.63 L357.4 274.72 L358.82 274.8 L360.25 274.87 L361.67 274.93 L363.1 274.98 L364.52 275.02 L365.95 275.04 L367.37 275.06 L368.8 275.06" fill="none" stroke="rgb(134,73,140)" stroke-width="0.6" stroke-opacity="0.75"/>
<path d="M213.43 248.71 L214.86 248.21 L216.28 247.67 L217.71 247.08 L219.13 246.46 L220.56 245.8 L221.99 245.1 L223.41 244.37 L224.84 243.62 L226.26 242.83 L227.69 242.03 L229.11 241.17 L230.54 240.19 L231.96 239.1 L233.39 237.93 L234.81 236.73 L236.24 235.52 L237.66 234.34 L239.09 233.23 L240.52 232.22 L241.94 231.33 L243.37 230.62 L244.79 230.04 L246.22 229.56 L247.64 229.13 L249.07 228.68 L250.49 228.18 L251.92 227.56 L253.34 226.78 L254.77 225.52 L256.19 223.39 L257.62 221.11 L259.05 219.45 L260.47 218.39 L261.9 217.5 L263.32 216.76 L264.75 216.12 L266.17 215.53 L267.6 214.93 L269.02 214.42 L270.45 214.08 L271.87 214.04 L273.3 214.59 L274.72 215.69 L276.15 217.17 L277.58 218.86 L279 220.59 L280.43 222.32 L281.85 224.41 L283.28 226.76 L284.7 229.24 L286.13 231.69 L287.55 233.98 L288.98 235.9 L290.4 237.53 L291.83 239.18 L293.25 241.13 L294.68 243.66 L296.11 247.68 L297.53 256.69 L298.96 261.45 L300.38 262.84 L301.81 264.04 L303.23 265.06 L304.66 265.92 L306.08 266.64 L307.51 267.24 L308.93 267.74 L310.36 268.16 L311.78 268.52 L313.21 268.83 L314.64 269.13 L316.06 269.42 L317.49 269.72 L318.91 270.01 L320.34 270.29 L321.76 270.57 L323.19 270.84 L324.61 271.1 L326.04 271.36 L327.46 271.62 L328.89 271.86 L330.31 272.1 L331.74 272.34 L333.17 272.56 L334.59 272.78 L336.02 272.99 L337.44 273.2 L338.87 273.39 L340.29 273.58 L341.72 273.77 L343.14 273.94 L344.57 274.1 L345.99 274.26 L347.42 274.41 L348.84 274.55 L350.27 274.68 L351.7 274.81 L353.12 274.92 L354.55 275.02 L355.97 275.12 L357.4 275.21 L358.82 275.28 L360.25 275.35 L361.67 275.41 L363.1 275.45 L364.52 275.49 L365.95 275.52 L367.37 275.53 L368.8 275.54" fill="none" stroke="rgb(139,73,135)" stroke-width="0.6" stroke-opacity="0.75"/>
<path d="M213.43 248.6 L214.86 248.13 L216.28 247.61 L217.71 247.03 L219.13 246.41 L220.56 245.75 L221.99 245.04 L223.41 244.3 L224.84 243.53 L226.26 242.73 L227.69 241.91 L229.11 241.02 L230.54 239.98 L231.96 238.82 L233.39 237.59 L234.81 236.32 L236.24 235.06 L237.66 233.83 L239.09 232.67 L240.52 231.63 L241.94 230.74 L243.37 230.02 L244.79 229.43 L246.22 228.91 L247.64 228.4 L249.07 227.85 L250.49 227.19 L251.92 226.36 L253.34 225.12 L254.77 223.01 L256.19 220.72 L257.62 219.01 L259.05 217.94 L260.47 217.03 L261.9 216.27 L263.32 215.64 L264.75 215.04 L266.17 214.46 L267.6 213.99 L269.02 213.74 L270.45 213.91 L271.87 214.74 L273.3 216.09 L274.72 217.75 L276.15 219.56 L277.58 221.33 L279 223.28 L280.43 225.57 L281.85 228.06 L283.28 230.61 L284.7 233.06 L286.13 235.27 L287.55 237.14 L288.98 238.89 L290.4 240.73 L291.83 242.92 L293.25 245.67 L294.68 250.62 L296.11 257.84 L297.53 261.66 L298.96 263 L300.38 264.16 L301.81 265.17 L303.23 266.03 L304.66 266.76 L306.08 267.38 L307.51 267.91 L308.93 268.36 L310.36 268.74 L311.78 269.08 L313.21 269.39 L314.64 269.69 L316.06 269.98 L317.49 270.27 L318.91 270.56 L320.34 270.83 L321.76 271.11 L323.19 271.37 L324.61 271.63 L326.04 271.88 L327.46 272.13 L328.89 272.37 L330.31 272.61 L331.74 272.84 L333.17 273.06 L334.59 273.27 L336.02 273.48 L337.44 273.68 L338.87 273.87 L340.29 274.05 L341.72 274.23 L343.14 274.4 L344.57 274.56 L345.99 274.72 L347.42 274.86 L348.84 275 L350.27 275.13 L351.7 275.24 L353.12 275.36 L354.55 275.46 L355.97 275.55 L357.4 275.63 L358.82 275.71 L360.25 275.77 L361.67 275.83 L363.1 275.87 L364.52 275.91 L365.95 275.94 L367.37 275.95 L368.8 275.96" fill="none" stroke="rgb(144,73,130)" stroke-width="0.6" stroke-opacity="0.75"/>
<path d="M213.43 248.49 L214.86 248.05 L216.28 247.54 L217.71 246.98 L219.13 246.36 L220.56 245.69 L221.99 244.98 L223.41 244.23 L224.84 243.44 L226.26 242.62 L227.69 241.78 L229.11 240.84 L230.54 239.73 L231.96 238.51 L233.39 237.21 L234.81 235.87 L236.24 234.54 L237.66 233.25 L239.09 232.05 L240.52 230.97 L241.94 230.07 L243.37 229.34 L244.79 228.71 L246.22 228.11 L247.64 227.49 L249.07 226.76 L250.49 225.86 L251.92 224.6 L253.34 222.51 L254.77 220.23 L256.19 218.51 L257.62 217.41 L259.05 216.48 L260.47 215.72 L261.9 215.08 L263.32 214.48 L264.75 213.92 L266.17 213.51 L267.6 213.37 L269.02 213.84 L270.45 214.95 L271.87 216.53 L273.3 218.36 L274.72 220.25 L276.15 222.11 L277.58 224.29 L279 226.76 L280.43 229.36 L281.85 231.94 L283.28 234.36 L284.7 236.5 L286.13 238.42 L287.55 240.32 L288.98 242.37 L290.4 244.74 L291.83 247.68 L293.25 252.65 L294.68 258.22 L296.11 261.67 L297.53 262.97 L298.96 264.11 L300.38 265.11 L301.81 265.99 L303.23 266.74 L304.66 267.4 L306.08 267.96 L307.51 268.45 L308.93 268.87 L310.36 269.25 L311.78 269.58 L313.21 269.88 L314.64 270.18 L316.06 270.47 L317.49 270.75 L318.91 271.03 L320.34 271.3 L321.76 271.57 L323.19 271.83 L324.61 272.08 L326.04 272.33 L327.46 272.58 L328.89 272.81 L330.31 273.04 L331.74 273.27 L333.17 273.48 L334.59 273.69 L336.02 273.89 L337.44 274.09 L338.87 274.28 L340.29 274.46 L341.72 274.63 L343.14 274.8 L344.57 274.96 L345.99 275.11 L347.42 275.25 L348.84 275.38 L350.27 275.51 L351.7 275.62 L353.12 275.73 L354.55 275.83 L355.97 275.92 L357.4 276 L358.82 276.08 L360.25 276.14 L361.67 276.19 L363.1 276.24 L364.52 276.27 L365.95 276.3 L367.37 276.31 L368.8 276.32" fill="none" stroke="rgb(149,72,124)" stroke-width="0.6" stroke-opacity="0.75"/>
<path d="M213.43 248.38 L214.86 247.97 L216.28 247.48 L217.71 246.93 L219.13 246.31 L220.56 245.64 L221.99 244.92 L223.41 244.15 L224.84 243.34 L226.26 242.5 L227.69 241.63 L229.11 240.63 L230.54 239.46 L231.96 238.16 L233.39 236.78 L234.81 235.36 L236.24 233.95 L237.66 232.6 L239.09 231.35 L240.52 230.24 L241.94 229.32 L243.37 228.54 L244.79 227.82 L246.22 227.09 L247.64 226.27 L249.07 225.28 L250.49 223.95 L251.92 221.88 L253.34 219.64 L254.77 217.93 L256.19 216.8 L257.62 215.86 L259.05 215.08 L260.47 214.45 L261.9 213.85 L263.32 213.32 L264.75 212.99 L266.17 213.04 L267.6 213.83 L269.02 215.22 L270.45 217.02 L271.87 218.98 L273.3 220.91 L274.72 222.96 L276.15 225.35 L277.58 227.96 L279 230.62 L280.43 233.21 L281.85 235.58 L283.28 237.73 L284.7 239.77 L286.13 241.84 L287.55 244.06 L288.98 246.54 L290.4 249.66 L291.83 253.91 L293.25 258.21 L294.68 261.35 L296.11 262.76 L297.53 263.89 L298.96 264.9 L300.38 265.8 L301.81 266.59 L303.23 267.28 L304.66 267.89 L306.08 268.43 L307.51 268.9 L308.93 269.31 L310.36 269.67 L311.78 270 L313.21 270.3 L314.64 270.59 L316.06 270.87 L317.49 271.15 L318.91 271.43 L320.34 271.69 L321.76 271.96 L323.19 272.21 L324.61 272.47 L326.04 272.71 L327.46 272.95 L328.89 273.18 L330.31 273.41 L331.74 273.63 L333.17 273.84 L334.59 274.05 L336.02 274.25 L337.44 274.44 L338.87 274.62 L340.29 274.8 L341.72 274.97 L343.14 275.13 L344.57 275.29 L345.99 275.44 L347.42 275.57 L348.84 275.71 L350.27 275.83 L351.7 275.94 L353.12 276.05 L354.55 276.15 L355.97 276.24 L357.4 276.32 L358.82 276.39 L360.25 276.45 L361.67 276.5 L363.1 276.55 L364.52 276.58 L365.95 276.6 L367.37 276.62 L368.8 276.62" fill="none" stroke="rgb(154,72,118)" stroke-width="0.6" stroke-opacity="0.75"/>
<path d="M213.43 248.26 L214.86 247.88 L216.28 247.42 L217.71 246.88 L219.13 246.26 L220.56 245.58 L221.99 244.85 L223.41 244.06 L224.84 243.23 L226.26 242.37 L227.69 241.47 L229.11 240.4 L230.54 239.15 L231.96 237.76 L233.39 236.29 L234.81 234.78 L236.24 233.29 L237.66 231.87 L239.09 230.56 L240.52 229.41 L241.94 228.43 L243.37 227.55 L244.79 226.67 L246.22 225.72 L247.64 224.61 L249.07 223.18 L250.49 221.13 L251.92 218.96 L253.34 217.28 L254.77 216.13 L256.19 215.16 L257.62 214.37 L259.05 213.74 L260.47 213.15 L261.9 212.67 L263.32 212.44 L264.75 212.78 L266.17 213.89 L267.6 215.55 L269.02 217.53 L270.45 219.6 L271.87 221.58 L273.3 223.86 L274.72 226.43 L276.15 229.15 L277.58 231.86 L279 234.42 L280.43 236.77 L281.85 239 L283.28 241.2 L284.7 243.42 L286.13 245.74 L287.55 248.22 L288.98 251.23 L290.4 254.68 L291.83 258.03 L293.25 260.77 L294.68 262.4 L296.11 263.52 L297.53 264.54 L298.96 265.45 L300.38 266.28 L301.81 267.02 L303.23 267.69 L304.66 268.28 L306.08 268.8 L307.51 269.26 L308.93 269.67 L310.36 270.03 L311.78 270.34 L313.21 270.63 L314.64 270.92 L316.06 271.2 L317.49 271.48 L318.91 271.75 L320.34 272.01 L321.76 272.27 L323.19 272.53 L324.61 272.78 L326.04 273.02 L327.46 273.25 L328.89 273.48 L330.31 273.71 L331.74 273.92 L333.17 274.13 L334.59 274.34 L336.02 274.53 L337.44 274.72 L338.87 274.9 L340.29 275.08 L341.72 275.25 L343.14 275.41 L344.57 275.56 L345.99 275.7 L347.42 275.84 L348.84 275.97 L350.27 276.09 L351.7 276.2 L353.12 276.31 L354.55 276.41 L355.97 276.49 L357.4 276.57 L358.82 276.64 L360.25 276.7 L361.67 276.75 L363.1 276.8 L364.52 276.83 L365.95 276.86 L367.37 276.87 L368.8 276.87" fill="none" stroke="rgb(159,72,113)" stroke-width="0.6" stroke-opacity="0.75"/>
<path d="M213.43 248.13 L214.86 247.8 L216.28 247.36 L217.71 246.83 L219.13 246.21 L220.56 245.52 L221.99 244.77 L223.41 243.96 L224.84 243.11 L226.26 242.22 L227.69 241.28 L229.11 240.13 L230.54 238.79 L231.96 237.31 L233.39 235.73 L234.81 234.13 L236.24 232.54 L237.66 231.03 L239.09 229.65 L240.52 228.43 L241.94 227.32 L243.37 226.24 L244.79 225.1 L246.22 223.83 L247.64 222.27 L249.07 220.25 L250.49 218.19 L251.92 216.55 L253.34 215.38 L254.77 214.38 L256.19 213.58 L257.62 212.96 L259.05 212.38 L260.47 211.97 L261.9 211.89 L263.32 212.6 L264.75 214.03 L266.17 215.94 L267.6 218.07 L269.02 220.17 L270.45 222.32 L271.87 224.81 L273.3 227.53 L274.72 230.31 L276.15 233.03 L277.58 235.56 L279 237.98 L280.43 240.35 L281.85 242.68 L283.28 245.01 L284.7 247.35 L286.13 249.74 L287.55 252.4 L288.98 255.16 L290.4 257.8 L291.83 260.11 L293.25 261.86 L294.68 263.01 L296.11 264.02 L297.53 264.96 L298.96 265.83 L300.38 266.61 L301.81 267.33 L303.23 267.98 L304.66 268.56 L306.08 269.08 L307.51 269.55 L308.93 269.95 L310.36 270.3 L311.78 270.6 L313.21 270.89 L314.64 271.18 L316.06 271.46 L317.49 271.73 L318.91 272 L320.34 272.26 L321.76 272.52 L323.19 272.77 L324.61 273.02 L326.04 273.26 L327.46 273.49 L328.89 273.72 L330.31 273.94 L331.74 274.15 L333.17 274.36 L334.59 274.56 L336.02 274.75 L337.44 274.94 L338.87 275.12 L340.29 275.3 L341.72 275.46 L343.14 275.62 L344.57 275.77 L345.99 275.91 L347.42 276.05 L348.84 276.18 L350.27 276.3 L351.7 276.41 L353.12 276.51 L354.55 276.61 L355.97 276.69 L357.4 276.77 L358.82 276.84 L360.25 276.9 L361.67 276.95 L363.1 276.99 L364.52 277.03 L365.95 277.05 L367.37 277.06 L368.8 277.07" fill="none" stroke="rgb(163,70,107)" stroke-width="0.6" stroke-opacity="0.75"/>
<path d="M213.43 248.01 L214.86 247.72 L216.28 247.31 L217.71 246.78 L219.13 246.16 L220.56 245.46 L221.99 244.69 L223.41 243.85 L224.84 242.97 L226.26 242.06 L227.69 241.07 L229.11 239.83 L230.54 238.38 L231.96 236.79 L233.39 235.1 L234.81 233.38 L236.24 231.68 L237.66 230.06 L239.09 228.57 L240.52 227.18 L241.94 225.81 L243.37 224.41 L244.79 222.93 L246.22 221.24 L247.64 219.27 L249.07 217.32 L250.49 215.75 L251.92 214.55 L253.34 213.52 L254.77 212.72 L256.19 212.1 L257.62 211.56 L259.05 211.24 L260.47 211.42 L261.9 212.5 L263.32 214.24 L264.75 216.37 L266.17 218.61 L267.6 220.73 L269.02 223.11 L270.45 225.79 L271.87 228.61 L273.3 231.45 L274.72 234.15 L276.15 236.7 L277.58 239.24 L279 241.76 L280.43 244.21 L281.85 246.58 L283.28 248.82 L284.7 251.02 L286.13 253.27 L287.55 255.48 L288.98 257.58 L290.4 259.48 L291.83 261.11 L293.25 262.37 L294.68 263.38 L296.11 264.33 L297.53 265.22 L298.96 266.04 L300.38 266.81 L301.81 267.52 L303.23 268.17 L304.66 268.75 L306.08 269.28 L307.51 269.75 L308.93 270.15 L310.36 270.5 L311.78 270.79 L313.21 271.08 L314.64 271.36 L316.06 271.64 L317.49 271.91 L318.91 272.18 L320.34 272.44 L321.76 272.69 L323.19 272.94 L324.61 273.19 L326.04 273.42 L327.46 273.66 L328.89 273.88 L330.31 274.1 L331.74 274.31 L333.17 274.52 L334.59 274.72 L336.02 274.91 L337.44 275.1 L338.87 275.28 L340.29 275.45 L341.72 275.61 L343.14 275.77 L344.57 275.92 L345.99 276.06 L347.42 276.2 L348.84 276.32 L350.27 276.44 L351.7 276.55 L353.12 276.66 L354.55 276.75 L355.97 276.84 L357.4 276.91 L358.82 276.98 L360.25 277.04 L361.67 277.09 L363.1 277.13 L364.52 277.17 L365.95 277.19 L367.37 277.2 L368.8 277.21" fill="none" stroke="rgb(168,69,101)" stroke-width="0.6" stroke-opacity="0.75"/>
<path d="M213.43 247.88 L214.86 247.64 L216.28 247.25 L217.71 246.74 L219.13 246.12 L220.56 245.4 L221.99 244.6 L223.41 243.73 L224.84 242.83 L226.26 241.89 L227.69 240.82 L229.11 239.48 L230.54 237.92 L231.96 236.19 L233.39 234.37 L234.81 232.51 L236.24 230.67 L237.66 228.9 L239.09 227.18 L240.52 225.42 L241.94 223.64 L243.37 221.87 L244.79 220.06 L246.22 218.17 L247.64 216.38 L249.07 214.88 L250.49 213.64 L251.92 212.57 L253.34 211.78 L254.77 211.17 L256.19 210.68 L257.62 210.49 L259.05 211.05 L260.47 212.5 L261.9 214.52 L263.32 216.82 L264.75 219.11 L266.17 221.36 L267.6 223.96 L269.02 226.77 L270.45 229.68 L271.87 232.53 L273.3 235.21 L274.72 237.89 L276.15 240.58 L277.58 243.23 L279 245.74 L280.43 248.05 L281.85 250.1 L283.28 252.03 L284.7 253.91 L286.13 255.7 L287.55 257.38 L288.98 258.94 L290.4 260.34 L291.83 261.58 L293.25 262.62 L294.68 263.56 L296.11 264.46 L297.53 265.31 L298.96 266.12 L300.38 266.89 L301.81 267.6 L303.23 268.25 L304.66 268.85 L306.08 269.39 L307.51 269.86 L308.93 270.27 L310.36 270.61 L311.78 270.9 L313.21 271.19 L314.64 271.47 L316.06 271.75 L317.49 272.02 L318.91 272.28 L320.34 272.54 L321.76 272.8 L323.19 273.05 L324.61 273.29 L326.04 273.53 L327.46 273.76 L328.89 273.98 L330.31 274.2 L331.74 274.41 L333.17 274.62 L334.59 274.82 L336.02 275.01 L337.44 275.19 L338.87 275.37 L340.29 275.54 L341.72 275.71 L343.14 275.86 L344.57 276.01 L345.99 276.15 L347.42 276.29 L348.84 276.41 L350.27 276.53 L351.7 276.64 L353.12 276.74 L354.55 276.84 L355.97 276.92 L357.4 277 L358.82 277.07 L360.25 277.12 L361.67 277.18 L363.1 277.22 L364.52 277.25 L365.95 277.27 L367.37 277.29 L368.8 277.29" fill="none" stroke="rgb(172,68,96)" stroke-width="0.6" stroke-opacity="0.75"/>
<path d="M213.43 247.74 L214.86 247.56 L216.28 247.2 L217.71 246.7 L219.13 246.07 L220.56 245.33 L221.99 244.5 L223.41 243.6 L224.84 242.66 L226.26 241.7 L227.69 240.54 L229.11 239.08 L230.54 237.39 L231.96 235.52 L233.39 233.53 L234.81 231.49 L236.24 229.44 L237.66 227.39 L239.09 225.1 L240.52 222.77 L241.94 220.64 L243.37 218.76 L244.79 216.98 L246.22 215.35 L247.64 213.93 L249.07 212.65 L250.49 211.55 L251.92 210.78 L253.34 210.18 L254.77 209.76 L256.19 209.79 L257.62 210.79 L259.05 212.59 L260.47 214.86 L261.9 217.29 L263.32 219.57 L264.75 222.05 L266.17 224.82 L267.6 227.75 L269.02 230.71 L270.45 233.56 L271.87 236.3 L273.3 239.14 L274.72 241.99 L276.15 244.73 L277.58 247.23 L279 249.38 L280.43 251.16 L281.85 252.83 L283.28 254.39 L284.7 255.86 L286.13 257.22 L287.55 258.49 L288.98 259.67 L290.4 260.76 L291.83 261.76 L293.25 262.68 L294.68 263.57 L296.11 264.43 L297.53 265.27 L298.96 266.07 L300.38 266.84 L301.81 267.56 L303.23 268.23 L304.66 268.84 L306.08 269.4 L307.51 269.89 L308.93 270.31 L310.36 270.65 L311.78 270.94 L313.21 271.23 L314.64 271.51 L316.06 271.78 L317.49 272.05 L318.91 272.32 L320.34 272.58 L321.76 272.83 L323.19 273.08 L324.61 273.32 L326.04 273.56 L327.46 273.79 L328.89 274.01 L330.31 274.23 L331.74 274.44 L333.17 274.65 L334.59 274.85 L336.02 275.04 L337.44 275.22 L338.87 275.4 L340.29 275.57 L341.72 275.74 L343.14 275.89 L344.57 276.04 L345.99 276.18 L347.42 276.32 L348.84 276.44 L350.27 276.56 L351.7 276.67 L353.12 276.77 L354.55 276.86 L355.97 276.95 L357.4 277.03 L358.82 277.09 L360.25 277.15 L361.67 277.2 L363.1 277.25 L364.52 277.28 L365.95 277.3 L367.37 277.32 L368.8 277.32" fill="none" stroke="rgb(177,67,90)" stroke-width="0.6" stroke-opacity="0.75"/>
<path d="M213.43 249.64 L214.86 248.96 L216.28 248.28 L217.71 247.59 L219.13 246.91 L220.56 246.23 L221.99 245.55 L223.41 244.87 L224.84 244.19 L226.26 243.52 L227.69 242.84 L229.11 242.16 L230.54 241.49 L231.96 240.8 L233.39 240.1 L234.81 239.4 L236.24 238.7 L237.66 237.99 L239.09 237.3 L240.52 236.61 L241.94 235.93 L243.37 235.27 L244.79 234.63 L246.22 234.02 L247.64 233.43 L249.07 232.88 L250.49 232.38 L251.92 231.9 L253.34 231.45 L254.77 231.01 L256.19 230.57 L257.62 230.12 L259.05 229.66 L260.47 229.17 L261.9 228.65 L263.32 228.08 L264.75 227.46 L266.17 226.75 L267.6 225.93 L269.02 225.02" fill="none" stroke="rgb(40,20,200)" stroke-width="0.85" stroke-opacity="0.8"/>
<path d="M213.43 247.74 L214.86 247.56 L216.28 247.2 L217.71 246.7 L219.13 246.07 L220.56 245.33 L221.99 244.5 L223.41 243.6 L224.84 242.66 L226.26 241.7 L227.69 240.54 L229.11 239.08 L230.54 237.39 L231.96 235.52 L233.39 233.53 L234.81 231.49 L236.24 229.44 L237.66 227.39 L239.09 225.1 L240.52 222.77 L241.94 220.64 L243.37 218.76 L244.79 216.98 L246.22 215.35 L247.64 213.93 L249.07 212.65 L250.49 211.55 L251.92 210.78 L253.34 210.18 L254.77 209.76 L256.19 209.79" fill="none" stroke="rgb(255,0,0)" stroke-width="0.85" stroke-opacity="0.8"/>
<path d="M284.7 255.86 L286.13 257.22 L287.55 258.49 L288.98 259.67 L290.4 260.76 L291.83 261.76 L293.25 262.68 L294.68 263.57 L296.11 264.43 L297.53 265.27 L298.96 266.07 L300.38 266.84 L301.81 267.56 L303.23 268.23 L304.66 268.84 L306.08 269.4 L307.51 269.89 L308.93 270.31 L310.36 270.65 L311.78 270.94 L313.21 271.23 L314.64 271.51 L316.06 271.78 L317.49 272.05 L318.91 272.32 L320.34 272.58 L321.76 272.83 L323.19 273.08 L324.61 273.32 L326.04 273.56 L327.46 273.79 L328.89 274.01 L330.31 274.23 L331.74 274.44 L333.17 274.65 L334.59 274.85 L336.02 275.04 L337.44 275.22 L338.87 275.4 L340.29 275.57 L341.72 275.74 L343.14 275.89 L344.57 276.04 L345.99 276.18 L347.42 276.32 L348.84 276.44 L350.27 276.56 L351.7 276.67 L353.12 276.77 L354.55 276.86 L355.97 276.95 L357.4 277.03 L358.82 277.09 L360.25 277.15 L361.67 277.2 L363.1 277.25 L364.52 277.28 L365.95 277.3 L367.37 277.32 L368.8 277.32" fill="none" stroke="rgb(255,0,0)" stroke-width="0.85" stroke-opacity="0.8"/>
<path d="M253.1 190.2 L258.3 186.6 L258.3 188.2 L288.2 188.2 L288.2 192.2 L258.3 192.2 L258.3 193.8 Z" fill="#bbb" opacity="0.5" transform="translate(0.6,0.8)"/>
<path d="M253.1 190.2 L258.3 186.6 L258.3 188.2 L288.2 188.2 L288.2 192.2 L258.3 192.2 L258.3 193.8 Z" fill="url(#arrowD)"/>
<rect x="375.2" y="182.2" width="8.2" height="103.4" fill="url(#cbar)"/>
<text x="371.4" y="175.2" font-size="6" fill="#1a1a1a" text-anchor="start" font-weight="normal" stroke="#1a1a1a" stroke-width="0.18" >Time (min)</text>
<text x="385.2" y="287.2" font-size="4.7" fill="#444" text-anchor="start" font-weight="normal" >0</text>
<text x="385.2" y="270.08" font-size="4.7" fill="#444" text-anchor="start" font-weight="normal" >15</text>
<text x="385.2" y="252.97" font-size="4.7" fill="#444" text-anchor="start" font-weight="normal" >30</text>
<text x="385.2" y="235.85" font-size="4.7" fill="#444" text-anchor="start" font-weight="normal" >45</text>
<text x="385.2" y="218.73" font-size="4.7" fill="#444" text-anchor="start" font-weight="normal" >60</text>
<text x="385.2" y="201.62" font-size="4.7" fill="#444" text-anchor="start" font-weight="normal" >75</text>
<text x="385.2" y="184.5" font-size="4.7" fill="#444" text-anchor="start" font-weight="normal" >90</text>
</svg>
</body></html>
